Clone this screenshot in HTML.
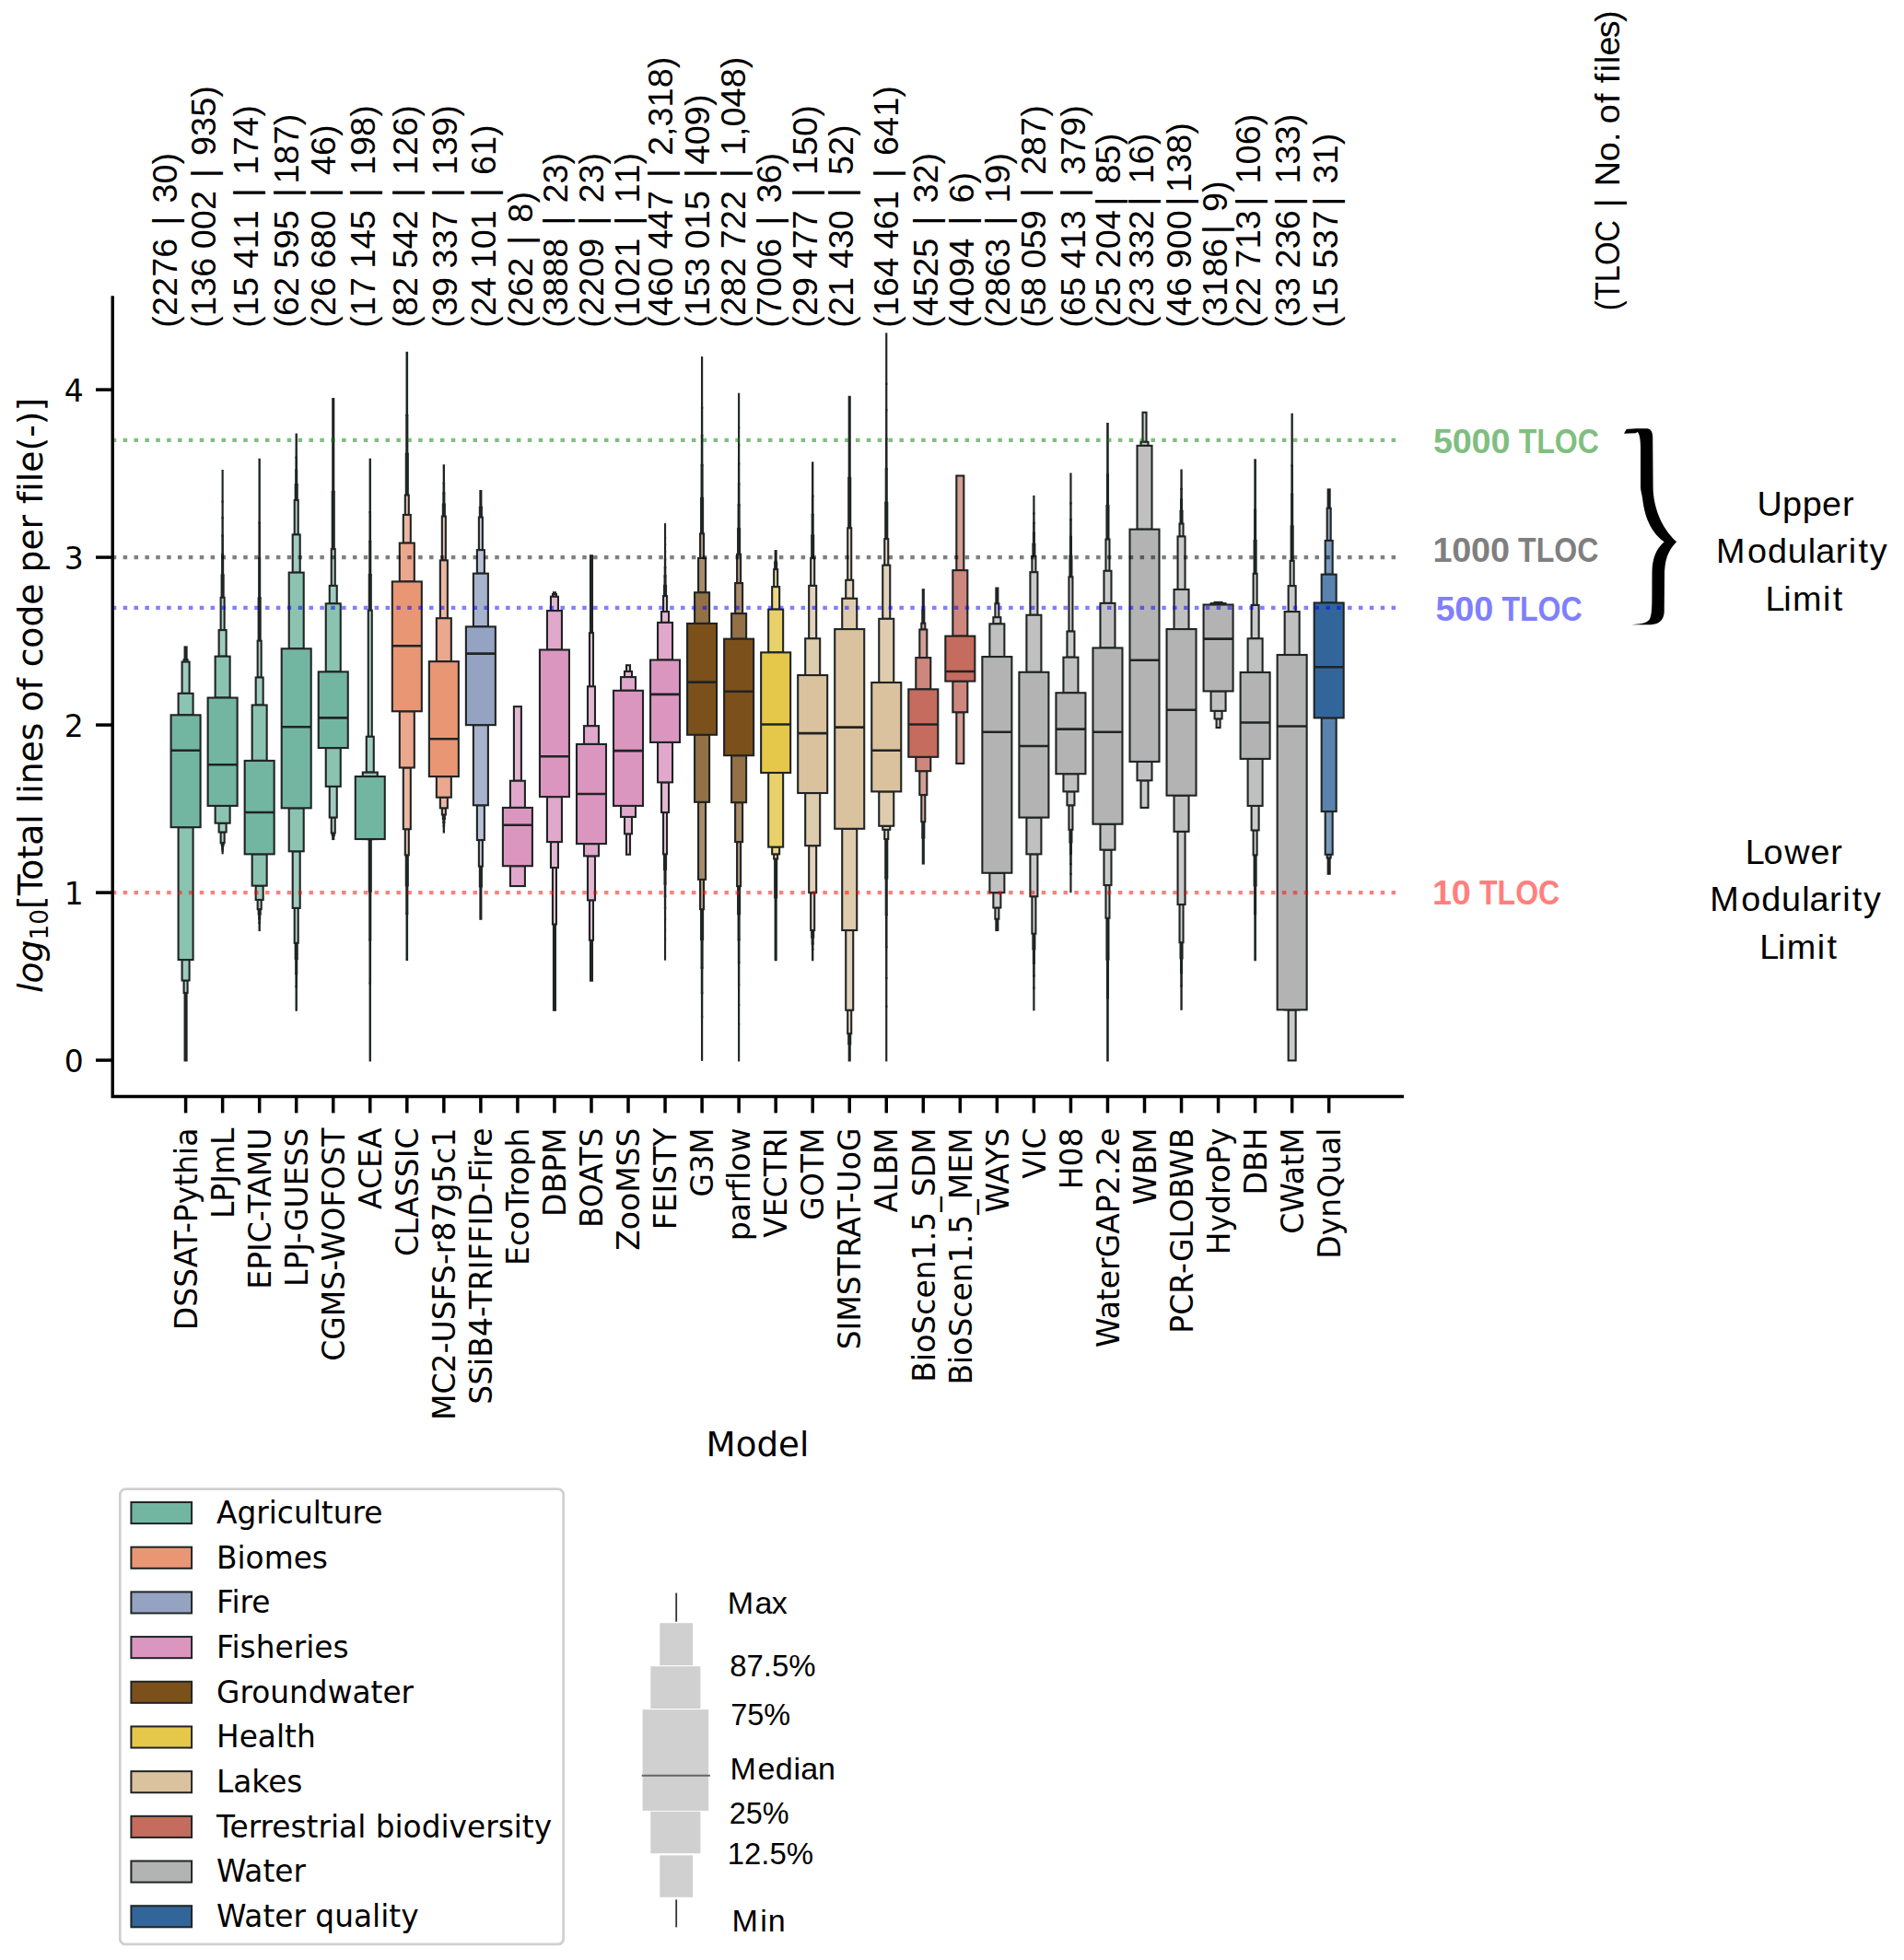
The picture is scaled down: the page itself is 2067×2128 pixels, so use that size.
<!DOCTYPE html><html lang="en"><head><meta charset="utf-8"><title>Total lines of code per file by model</title>
<style>html,body{margin:0;padding:0;background:#fff}svg{display:block}text{white-space:pre;font-variant-ligatures:none;font-feature-settings:"liga" 0,"clig" 0;font-kerning:normal}</style></head><body>
<svg width="2067" height="2128" viewBox="0 0 2067 2128">
<rect width="2067" height="2128" fill="#fff"/>
<g id="boxes" stroke-linejoin="miter">
<rect x="200.60" y="702.45" width="2.00" height="13.67" fill="#bcdad0" stroke="#202424" stroke-width="2.1"/>
<rect x="200.60" y="1077.96" width="2.00" height="73.47" fill="#bcdad0" stroke="#202424" stroke-width="2.1"/>
<rect x="199.60" y="716.12" width="4.00" height="2.45" fill="#afd4c8" stroke="#202424" stroke-width="2.1"/>
<rect x="199.60" y="1064.49" width="4.00" height="13.47" fill="#afd4c8" stroke="#202424" stroke-width="2.1"/>
<rect x="197.60" y="718.57" width="8.00" height="34.29" fill="#9fccbe" stroke="#202424" stroke-width="2.1"/>
<rect x="197.60" y="1042.04" width="8.00" height="22.45" fill="#9fccbe" stroke="#202424" stroke-width="2.1"/>
<rect x="193.60" y="752.86" width="16.00" height="23.47" fill="#8bc3b1" stroke="#202424" stroke-width="2.1"/>
<rect x="193.60" y="898.16" width="16.00" height="143.88" fill="#8bc3b1" stroke="#202424" stroke-width="2.1"/>
<rect x="185.60" y="776.33" width="32.00" height="121.84" fill="#72b6a1" stroke="#202424" stroke-width="2.1"/>
<line x1="185.60" x2="217.60" y1="814.69" y2="814.69" stroke="#202424" stroke-width="2.6"/>
<rect x="240.63" y="624.42" width="2.00" height="24.36" fill="#bcdad0" stroke="#202424" stroke-width="2.1"/>
<rect x="241.13" y="601.74" width="1.00" height="22.68" fill="#c6dfd7" stroke="#202424" stroke-width="2.1"/>
<rect x="241.38" y="581.58" width="0.50" height="20.16" fill="#cee3dc" stroke="#202424" stroke-width="2.1"/>
<rect x="241.51" y="562.26" width="0.25" height="19.32" fill="#d4e6e0" stroke="#202424" stroke-width="2.1"/>
<rect x="241.57" y="544.62" width="0.12" height="17.64" fill="#d9e9e3" stroke="#202424" stroke-width="2.1"/>
<rect x="241.60" y="511.02" width="0.06" height="33.60" fill="#ddeae6" stroke="#202424" stroke-width="2.1"/>
<rect x="240.63" y="915.10" width="2.00" height="1.98" fill="#bcdad0" stroke="#202424" stroke-width="2.1"/>
<rect x="241.13" y="917.09" width="1.00" height="1.85" fill="#c6dfd7" stroke="#202424" stroke-width="2.1"/>
<rect x="241.38" y="918.93" width="0.50" height="1.64" fill="#cee3dc" stroke="#202424" stroke-width="2.1"/>
<rect x="241.51" y="920.58" width="0.25" height="1.57" fill="#d4e6e0" stroke="#202424" stroke-width="2.1"/>
<rect x="241.57" y="922.15" width="0.12" height="1.44" fill="#d9e9e3" stroke="#202424" stroke-width="2.1"/>
<rect x="241.60" y="923.59" width="0.06" height="2.74" fill="#ddeae6" stroke="#202424" stroke-width="2.1"/>
<rect x="239.63" y="648.78" width="4.00" height="35.31" fill="#afd4c8" stroke="#202424" stroke-width="2.1"/>
<rect x="239.63" y="903.47" width="4.00" height="11.63" fill="#afd4c8" stroke="#202424" stroke-width="2.1"/>
<rect x="237.63" y="684.08" width="8.00" height="28.57" fill="#9fccbe" stroke="#202424" stroke-width="2.1"/>
<rect x="237.63" y="893.67" width="8.00" height="9.80" fill="#9fccbe" stroke="#202424" stroke-width="2.1"/>
<rect x="233.63" y="712.65" width="16.00" height="44.90" fill="#8bc3b1" stroke="#202424" stroke-width="2.1"/>
<rect x="233.63" y="874.90" width="16.00" height="18.78" fill="#8bc3b1" stroke="#202424" stroke-width="2.1"/>
<rect x="225.63" y="757.55" width="32.00" height="117.35" fill="#72b6a1" stroke="#202424" stroke-width="2.1"/>
<line x1="225.63" x2="257.63" y1="830.20" y2="830.20" stroke="#202424" stroke-width="2.6"/>
<rect x="280.67" y="649.28" width="2.00" height="46.43" fill="#bcdad0" stroke="#202424" stroke-width="2.1"/>
<rect x="281.17" y="606.05" width="1.00" height="43.23" fill="#c6dfd7" stroke="#202424" stroke-width="2.1"/>
<rect x="281.42" y="567.62" width="0.50" height="38.43" fill="#cee3dc" stroke="#202424" stroke-width="2.1"/>
<rect x="281.54" y="498.78" width="0.25" height="68.85" fill="#d4e6e0" stroke="#202424" stroke-width="2.1"/>
<rect x="280.67" y="987.14" width="2.00" height="5.39" fill="#bcdad0" stroke="#202424" stroke-width="2.1"/>
<rect x="281.17" y="992.53" width="1.00" height="5.02" fill="#c6dfd7" stroke="#202424" stroke-width="2.1"/>
<rect x="281.42" y="997.55" width="0.50" height="4.46" fill="#cee3dc" stroke="#202424" stroke-width="2.1"/>
<rect x="281.54" y="1002.01" width="0.25" height="7.99" fill="#d4e6e0" stroke="#202424" stroke-width="2.1"/>
<rect x="279.67" y="695.71" width="4.00" height="39.80" fill="#afd4c8" stroke="#202424" stroke-width="2.1"/>
<rect x="279.67" y="976.94" width="4.00" height="10.20" fill="#afd4c8" stroke="#202424" stroke-width="2.1"/>
<rect x="277.67" y="735.51" width="8.00" height="30.00" fill="#9fccbe" stroke="#202424" stroke-width="2.1"/>
<rect x="277.67" y="961.63" width="8.00" height="15.31" fill="#9fccbe" stroke="#202424" stroke-width="2.1"/>
<rect x="273.67" y="765.51" width="16.00" height="60.41" fill="#8bc3b1" stroke="#202424" stroke-width="2.1"/>
<rect x="273.67" y="927.35" width="16.00" height="34.29" fill="#8bc3b1" stroke="#202424" stroke-width="2.1"/>
<rect x="265.67" y="825.92" width="32.00" height="101.43" fill="#72b6a1" stroke="#202424" stroke-width="2.1"/>
<line x1="265.67" x2="297.67" y1="882.04" y2="882.04" stroke="#202424" stroke-width="2.6"/>
<rect x="320.70" y="526.22" width="2.00" height="16.84" fill="#bcdad0" stroke="#202424" stroke-width="2.1"/>
<rect x="321.20" y="510.54" width="1.00" height="15.68" fill="#c6dfd7" stroke="#202424" stroke-width="2.1"/>
<rect x="321.45" y="496.60" width="0.50" height="13.94" fill="#cee3dc" stroke="#202424" stroke-width="2.1"/>
<rect x="321.58" y="471.63" width="0.25" height="24.97" fill="#d4e6e0" stroke="#202424" stroke-width="2.1"/>
<rect x="320.70" y="1023.88" width="2.00" height="17.18" fill="#bcdad0" stroke="#202424" stroke-width="2.1"/>
<rect x="321.20" y="1041.06" width="1.00" height="15.99" fill="#c6dfd7" stroke="#202424" stroke-width="2.1"/>
<rect x="321.45" y="1057.05" width="0.50" height="14.22" fill="#cee3dc" stroke="#202424" stroke-width="2.1"/>
<rect x="321.58" y="1071.26" width="0.25" height="25.47" fill="#d4e6e0" stroke="#202424" stroke-width="2.1"/>
<rect x="319.70" y="543.06" width="4.00" height="37.35" fill="#afd4c8" stroke="#202424" stroke-width="2.1"/>
<rect x="319.70" y="985.92" width="4.00" height="37.96" fill="#afd4c8" stroke="#202424" stroke-width="2.1"/>
<rect x="317.70" y="580.41" width="8.00" height="41.22" fill="#9fccbe" stroke="#202424" stroke-width="2.1"/>
<rect x="317.70" y="924.29" width="8.00" height="61.63" fill="#9fccbe" stroke="#202424" stroke-width="2.1"/>
<rect x="313.70" y="621.63" width="16.00" height="82.65" fill="#8bc3b1" stroke="#202424" stroke-width="2.1"/>
<rect x="313.70" y="877.35" width="16.00" height="46.94" fill="#8bc3b1" stroke="#202424" stroke-width="2.1"/>
<rect x="305.70" y="704.29" width="32.00" height="173.06" fill="#72b6a1" stroke="#202424" stroke-width="2.1"/>
<line x1="305.70" x2="337.70" y1="789.18" y2="789.18" stroke="#202424" stroke-width="2.6"/>
<rect x="360.74" y="533.90" width="2.00" height="62.22" fill="#bcdad0" stroke="#202424" stroke-width="2.1"/>
<rect x="361.24" y="433.06" width="1.00" height="100.84" fill="#c6dfd7" stroke="#202424" stroke-width="2.1"/>
<rect x="360.74" y="904.49" width="2.00" height="2.49" fill="#bcdad0" stroke="#202424" stroke-width="2.1"/>
<rect x="361.24" y="906.98" width="1.00" height="4.04" fill="#c6dfd7" stroke="#202424" stroke-width="2.1"/>
<rect x="359.74" y="596.12" width="4.00" height="39.80" fill="#afd4c8" stroke="#202424" stroke-width="2.1"/>
<rect x="359.74" y="887.55" width="4.00" height="16.94" fill="#afd4c8" stroke="#202424" stroke-width="2.1"/>
<rect x="357.74" y="635.92" width="8.00" height="19.39" fill="#9fccbe" stroke="#202424" stroke-width="2.1"/>
<rect x="357.74" y="853.88" width="8.00" height="33.67" fill="#9fccbe" stroke="#202424" stroke-width="2.1"/>
<rect x="353.74" y="655.31" width="16.00" height="74.08" fill="#8bc3b1" stroke="#202424" stroke-width="2.1"/>
<rect x="353.74" y="812.04" width="16.00" height="41.84" fill="#8bc3b1" stroke="#202424" stroke-width="2.1"/>
<rect x="345.74" y="729.39" width="32.00" height="82.65" fill="#72b6a1" stroke="#202424" stroke-width="2.1"/>
<line x1="345.74" x2="377.74" y1="779.39" y2="779.39" stroke="#202424" stroke-width="2.6"/>
<rect x="400.77" y="624.02" width="2.00" height="38.64" fill="#bcdad0" stroke="#202424" stroke-width="2.1"/>
<rect x="401.27" y="588.04" width="1.00" height="35.97" fill="#c6dfd7" stroke="#202424" stroke-width="2.1"/>
<rect x="401.52" y="556.07" width="0.50" height="31.98" fill="#cee3dc" stroke="#202424" stroke-width="2.1"/>
<rect x="401.65" y="498.78" width="0.25" height="57.29" fill="#d4e6e0" stroke="#202424" stroke-width="2.1"/>
<rect x="400.77" y="911.02" width="2.00" height="56.68" fill="#bcdad0" stroke="#202424" stroke-width="2.1"/>
<rect x="401.27" y="967.70" width="1.00" height="52.77" fill="#c6dfd7" stroke="#202424" stroke-width="2.1"/>
<rect x="401.52" y="1020.47" width="0.50" height="46.91" fill="#cee3dc" stroke="#202424" stroke-width="2.1"/>
<rect x="401.65" y="1067.38" width="0.25" height="84.05" fill="#d4e6e0" stroke="#202424" stroke-width="2.1"/>
<rect x="399.77" y="662.65" width="4.00" height="137.14" fill="#afd4c8" stroke="#202424" stroke-width="2.1"/>
<rect x="399.77" y="911.02" width="4.00" height="0.01" fill="#afd4c8" stroke="#202424" stroke-width="2.1"/>
<rect x="397.77" y="799.80" width="8.00" height="38.78" fill="#9fccbe" stroke="#202424" stroke-width="2.1"/>
<rect x="397.77" y="911.02" width="8.00" height="0.01" fill="#9fccbe" stroke="#202424" stroke-width="2.1"/>
<rect x="393.77" y="838.57" width="16.00" height="4.49" fill="#8bc3b1" stroke="#202424" stroke-width="2.1"/>
<rect x="393.77" y="911.02" width="16.00" height="0.01" fill="#8bc3b1" stroke="#202424" stroke-width="2.1"/>
<rect x="385.77" y="843.06" width="32.00" height="67.96" fill="#72b6a1" stroke="#202424" stroke-width="2.1"/>
<rect x="440.81" y="492.69" width="2.00" height="44.86" fill="#eeccbf" stroke="#202424" stroke-width="2.1"/>
<rect x="441.31" y="450.92" width="1.00" height="41.77" fill="#efd4c9" stroke="#202424" stroke-width="2.1"/>
<rect x="441.56" y="382.86" width="0.50" height="68.07" fill="#f0d9d1" stroke="#202424" stroke-width="2.1"/>
<rect x="440.81" y="928.37" width="2.00" height="32.97" fill="#eeccbf" stroke="#202424" stroke-width="2.1"/>
<rect x="441.31" y="961.33" width="1.00" height="30.69" fill="#efd4c9" stroke="#202424" stroke-width="2.1"/>
<rect x="441.56" y="992.02" width="0.50" height="50.02" fill="#f0d9d1" stroke="#202424" stroke-width="2.1"/>
<rect x="439.81" y="537.55" width="4.00" height="21.43" fill="#edc3b2" stroke="#202424" stroke-width="2.1"/>
<rect x="439.81" y="900.20" width="4.00" height="28.16" fill="#edc3b2" stroke="#202424" stroke-width="2.1"/>
<rect x="437.81" y="558.98" width="8.00" height="30.61" fill="#ecb7a2" stroke="#202424" stroke-width="2.1"/>
<rect x="437.81" y="833.47" width="8.00" height="66.73" fill="#ecb7a2" stroke="#202424" stroke-width="2.1"/>
<rect x="433.81" y="589.59" width="16.00" height="41.84" fill="#eba88e" stroke="#202424" stroke-width="2.1"/>
<rect x="433.81" y="772.24" width="16.00" height="61.22" fill="#eba88e" stroke="#202424" stroke-width="2.1"/>
<rect x="425.81" y="631.43" width="32.00" height="140.82" fill="#e99675" stroke="#202424" stroke-width="2.1"/>
<line x1="425.81" x2="457.81" y1="701.22" y2="701.22" stroke="#202424" stroke-width="2.6"/>
<rect x="480.85" y="547.57" width="2.00" height="13.04" fill="#eeccbf" stroke="#202424" stroke-width="2.1"/>
<rect x="481.35" y="535.43" width="1.00" height="12.14" fill="#efd4c9" stroke="#202424" stroke-width="2.1"/>
<rect x="481.60" y="524.64" width="0.50" height="10.79" fill="#f0d9d1" stroke="#202424" stroke-width="2.1"/>
<rect x="481.72" y="505.31" width="0.25" height="19.33" fill="#f0ded8" stroke="#202424" stroke-width="2.1"/>
<rect x="480.85" y="884.49" width="2.00" height="4.47" fill="#eeccbf" stroke="#202424" stroke-width="2.1"/>
<rect x="481.35" y="888.96" width="1.00" height="4.17" fill="#efd4c9" stroke="#202424" stroke-width="2.1"/>
<rect x="481.60" y="893.13" width="0.50" height="3.70" fill="#f0d9d1" stroke="#202424" stroke-width="2.1"/>
<rect x="481.72" y="896.83" width="0.25" height="6.64" fill="#f0ded8" stroke="#202424" stroke-width="2.1"/>
<rect x="479.85" y="560.61" width="4.00" height="47.76" fill="#edc3b2" stroke="#202424" stroke-width="2.1"/>
<rect x="479.85" y="877.35" width="4.00" height="7.14" fill="#edc3b2" stroke="#202424" stroke-width="2.1"/>
<rect x="477.85" y="608.37" width="8.00" height="62.86" fill="#ecb7a2" stroke="#202424" stroke-width="2.1"/>
<rect x="477.85" y="865.71" width="8.00" height="11.63" fill="#ecb7a2" stroke="#202424" stroke-width="2.1"/>
<rect x="473.85" y="671.22" width="16.00" height="46.94" fill="#eba88e" stroke="#202424" stroke-width="2.1"/>
<rect x="473.85" y="843.06" width="16.00" height="22.65" fill="#eba88e" stroke="#202424" stroke-width="2.1"/>
<rect x="465.85" y="718.16" width="32.00" height="124.90" fill="#e99675" stroke="#202424" stroke-width="2.1"/>
<line x1="465.85" x2="497.85" y1="802.24" y2="802.24" stroke="#202424" stroke-width="2.6"/>
<rect x="520.88" y="550.73" width="2.00" height="10.90" fill="#ccd2df" stroke="#202424" stroke-width="2.1"/>
<rect x="521.38" y="533.06" width="1.00" height="17.67" fill="#d4d8e3" stroke="#202424" stroke-width="2.1"/>
<rect x="520.88" y="940.61" width="2.00" height="21.80" fill="#ccd2df" stroke="#202424" stroke-width="2.1"/>
<rect x="521.38" y="962.42" width="1.00" height="35.34" fill="#d4d8e3" stroke="#202424" stroke-width="2.1"/>
<rect x="519.88" y="561.63" width="4.00" height="35.51" fill="#c2cada" stroke="#202424" stroke-width="2.1"/>
<rect x="519.88" y="912.04" width="4.00" height="28.57" fill="#c2cada" stroke="#202424" stroke-width="2.1"/>
<rect x="517.88" y="597.14" width="8.00" height="25.51" fill="#b7c0d4" stroke="#202424" stroke-width="2.1"/>
<rect x="517.88" y="874.29" width="8.00" height="37.76" fill="#b7c0d4" stroke="#202424" stroke-width="2.1"/>
<rect x="513.88" y="622.65" width="16.00" height="57.76" fill="#a7b3cd" stroke="#202424" stroke-width="2.1"/>
<rect x="513.88" y="787.14" width="16.00" height="87.14" fill="#a7b3cd" stroke="#202424" stroke-width="2.1"/>
<rect x="505.88" y="680.41" width="32.00" height="106.73" fill="#95a3c3" stroke="#202424" stroke-width="2.1"/>
<line x1="505.88" x2="537.88" y1="709.59" y2="709.59" stroke="#202424" stroke-width="2.6"/>
<rect x="557.91" y="767.14" width="8.00" height="80.61" fill="#e4b7d2" stroke="#202424" stroke-width="2.1"/>
<rect x="553.91" y="847.76" width="16.00" height="29.18" fill="#e0a8ca" stroke="#202424" stroke-width="2.1"/>
<rect x="553.91" y="940.20" width="16.00" height="21.84" fill="#e0a8ca" stroke="#202424" stroke-width="2.1"/>
<rect x="545.91" y="876.94" width="32.00" height="63.27" fill="#db96c0" stroke="#202424" stroke-width="2.1"/>
<line x1="545.91" x2="577.91" y1="895.71" y2="895.71" stroke="#202424" stroke-width="2.6"/>
<rect x="600.95" y="643.27" width="2.00" height="1.84" fill="#e9ccde" stroke="#202424" stroke-width="2.1"/>
<rect x="600.95" y="1003.47" width="2.00" height="93.27" fill="#e9ccde" stroke="#202424" stroke-width="2.1"/>
<rect x="599.95" y="645.10" width="4.00" height="2.65" fill="#e7c3d9" stroke="#202424" stroke-width="2.1"/>
<rect x="599.95" y="942.04" width="4.00" height="61.43" fill="#e7c3d9" stroke="#202424" stroke-width="2.1"/>
<rect x="597.95" y="647.76" width="8.00" height="15.31" fill="#e4b7d2" stroke="#202424" stroke-width="2.1"/>
<rect x="597.95" y="914.08" width="8.00" height="27.96" fill="#e4b7d2" stroke="#202424" stroke-width="2.1"/>
<rect x="593.95" y="663.06" width="16.00" height="42.45" fill="#e0a8ca" stroke="#202424" stroke-width="2.1"/>
<rect x="593.95" y="865.10" width="16.00" height="48.98" fill="#e0a8ca" stroke="#202424" stroke-width="2.1"/>
<rect x="585.95" y="705.51" width="32.00" height="159.59" fill="#db96c0" stroke="#202424" stroke-width="2.1"/>
<line x1="585.95" x2="617.95" y1="821.22" y2="821.22" stroke="#202424" stroke-width="2.6"/>
<rect x="640.99" y="603.27" width="2.00" height="83.88" fill="#e9ccde" stroke="#202424" stroke-width="2.1"/>
<rect x="640.99" y="1020.82" width="2.00" height="43.88" fill="#e9ccde" stroke="#202424" stroke-width="2.1"/>
<rect x="639.99" y="687.14" width="4.00" height="58.16" fill="#e7c3d9" stroke="#202424" stroke-width="2.1"/>
<rect x="639.99" y="977.35" width="4.00" height="43.47" fill="#e7c3d9" stroke="#202424" stroke-width="2.1"/>
<rect x="637.99" y="745.31" width="8.00" height="42.86" fill="#e4b7d2" stroke="#202424" stroke-width="2.1"/>
<rect x="637.99" y="929.39" width="8.00" height="47.96" fill="#e4b7d2" stroke="#202424" stroke-width="2.1"/>
<rect x="633.99" y="788.16" width="16.00" height="19.80" fill="#e0a8ca" stroke="#202424" stroke-width="2.1"/>
<rect x="633.99" y="916.12" width="16.00" height="13.27" fill="#e0a8ca" stroke="#202424" stroke-width="2.1"/>
<rect x="625.99" y="807.96" width="32.00" height="108.16" fill="#db96c0" stroke="#202424" stroke-width="2.1"/>
<line x1="625.99" x2="657.99" y1="862.04" y2="862.04" stroke="#202424" stroke-width="2.6"/>
<rect x="680.02" y="722.24" width="4.00" height="6.73" fill="#e7c3d9" stroke="#202424" stroke-width="2.1"/>
<rect x="680.02" y="905.31" width="4.00" height="22.45" fill="#e7c3d9" stroke="#202424" stroke-width="2.1"/>
<rect x="678.02" y="728.98" width="8.00" height="6.12" fill="#e4b7d2" stroke="#202424" stroke-width="2.1"/>
<rect x="678.02" y="886.94" width="8.00" height="18.37" fill="#e4b7d2" stroke="#202424" stroke-width="2.1"/>
<rect x="674.02" y="735.10" width="16.00" height="14.69" fill="#e0a8ca" stroke="#202424" stroke-width="2.1"/>
<rect x="674.02" y="874.90" width="16.00" height="12.04" fill="#e0a8ca" stroke="#202424" stroke-width="2.1"/>
<rect x="666.02" y="749.80" width="32.00" height="125.10" fill="#db96c0" stroke="#202424" stroke-width="2.1"/>
<line x1="666.02" x2="698.02" y1="815.10" y2="815.10" stroke="#202424" stroke-width="2.6"/>
<rect x="721.05" y="635.84" width="2.00" height="11.30" fill="#e9ccde" stroke="#202424" stroke-width="2.1"/>
<rect x="721.55" y="625.31" width="1.00" height="10.52" fill="#ebd4e2" stroke="#202424" stroke-width="2.1"/>
<rect x="721.80" y="615.96" width="0.50" height="9.36" fill="#ecd9e5" stroke="#202424" stroke-width="2.1"/>
<rect x="721.93" y="606.99" width="0.25" height="8.97" fill="#eddee8" stroke="#202424" stroke-width="2.1"/>
<rect x="721.99" y="598.81" width="0.12" height="8.19" fill="#eee2e9" stroke="#202424" stroke-width="2.1"/>
<rect x="722.02" y="591.01" width="0.06" height="7.80" fill="#efe5eb" stroke="#202424" stroke-width="2.1"/>
<rect x="722.04" y="584.00" width="0.03" height="7.02" fill="#efe5eb" stroke="#202424" stroke-width="2.1"/>
<rect x="722.05" y="569.18" width="0.02" height="14.81" fill="#efe5eb" stroke="#202424" stroke-width="2.1"/>
<rect x="721.05" y="927.35" width="2.00" height="16.57" fill="#e9ccde" stroke="#202424" stroke-width="2.1"/>
<rect x="721.55" y="943.92" width="1.00" height="15.43" fill="#ebd4e2" stroke="#202424" stroke-width="2.1"/>
<rect x="721.80" y="959.35" width="0.50" height="13.71" fill="#ecd9e5" stroke="#202424" stroke-width="2.1"/>
<rect x="721.93" y="973.06" width="0.25" height="13.14" fill="#eddee8" stroke="#202424" stroke-width="2.1"/>
<rect x="721.99" y="986.20" width="0.12" height="12.00" fill="#eee2e9" stroke="#202424" stroke-width="2.1"/>
<rect x="722.02" y="998.20" width="0.06" height="11.43" fill="#efe5eb" stroke="#202424" stroke-width="2.1"/>
<rect x="722.04" y="1009.63" width="0.03" height="10.29" fill="#efe5eb" stroke="#202424" stroke-width="2.1"/>
<rect x="722.05" y="1019.92" width="0.02" height="21.71" fill="#efe5eb" stroke="#202424" stroke-width="2.1"/>
<rect x="720.05" y="647.14" width="4.00" height="16.94" fill="#e7c3d9" stroke="#202424" stroke-width="2.1"/>
<rect x="720.05" y="882.04" width="4.00" height="45.31" fill="#e7c3d9" stroke="#202424" stroke-width="2.1"/>
<rect x="718.05" y="664.08" width="8.00" height="11.84" fill="#e4b7d2" stroke="#202424" stroke-width="2.1"/>
<rect x="718.05" y="849.39" width="8.00" height="32.65" fill="#e4b7d2" stroke="#202424" stroke-width="2.1"/>
<rect x="714.05" y="675.92" width="16.00" height="40.61" fill="#e0a8ca" stroke="#202424" stroke-width="2.1"/>
<rect x="714.05" y="805.92" width="16.00" height="43.47" fill="#e0a8ca" stroke="#202424" stroke-width="2.1"/>
<rect x="706.05" y="716.53" width="32.00" height="89.39" fill="#db96c0" stroke="#202424" stroke-width="2.1"/>
<line x1="706.05" x2="738.05" y1="753.88" y2="753.88" stroke="#202424" stroke-width="2.6"/>
<rect x="761.09" y="540.88" width="2.00" height="38.51" fill="#c4b19b" stroke="#202424" stroke-width="2.1"/>
<rect x="761.59" y="505.02" width="1.00" height="35.85" fill="#cdbeac" stroke="#202424" stroke-width="2.1"/>
<rect x="761.84" y="473.15" width="0.50" height="31.87" fill="#d5c8b9" stroke="#202424" stroke-width="2.1"/>
<rect x="761.97" y="442.61" width="0.25" height="30.54" fill="#dbd1c5" stroke="#202424" stroke-width="2.1"/>
<rect x="762.03" y="388.16" width="0.12" height="54.45" fill="#e0d7cd" stroke="#202424" stroke-width="2.1"/>
<rect x="761.09" y="987.14" width="2.00" height="32.96" fill="#c4b19b" stroke="#202424" stroke-width="2.1"/>
<rect x="761.59" y="1020.10" width="1.00" height="30.69" fill="#cdbeac" stroke="#202424" stroke-width="2.1"/>
<rect x="761.84" y="1050.79" width="0.50" height="27.28" fill="#d5c8b9" stroke="#202424" stroke-width="2.1"/>
<rect x="761.97" y="1078.07" width="0.25" height="26.14" fill="#dbd1c5" stroke="#202424" stroke-width="2.1"/>
<rect x="762.03" y="1104.21" width="0.12" height="46.60" fill="#e0d7cd" stroke="#202424" stroke-width="2.1"/>
<rect x="760.09" y="579.39" width="4.00" height="26.53" fill="#b7a084" stroke="#202424" stroke-width="2.1"/>
<rect x="760.09" y="954.90" width="4.00" height="32.24" fill="#b7a084" stroke="#202424" stroke-width="2.1"/>
<rect x="758.09" y="605.92" width="8.00" height="37.35" fill="#a88b69" stroke="#202424" stroke-width="2.1"/>
<rect x="758.09" y="870.82" width="8.00" height="84.08" fill="#a88b69" stroke="#202424" stroke-width="2.1"/>
<rect x="754.09" y="643.27" width="16.00" height="33.67" fill="#947046" stroke="#202424" stroke-width="2.1"/>
<rect x="754.09" y="797.76" width="16.00" height="73.06" fill="#947046" stroke="#202424" stroke-width="2.1"/>
<rect x="746.09" y="676.94" width="32.00" height="120.82" fill="#7c501a" stroke="#202424" stroke-width="2.1"/>
<line x1="746.09" x2="778.09" y1="740.61" y2="740.61" stroke="#202424" stroke-width="2.6"/>
<rect x="801.12" y="574.10" width="2.00" height="27.74" fill="#c4b19b" stroke="#202424" stroke-width="2.1"/>
<rect x="801.62" y="548.27" width="1.00" height="25.83" fill="#cdbeac" stroke="#202424" stroke-width="2.1"/>
<rect x="801.88" y="525.32" width="0.50" height="22.96" fill="#d5c8b9" stroke="#202424" stroke-width="2.1"/>
<rect x="802.00" y="503.32" width="0.25" height="22.00" fill="#dbd1c5" stroke="#202424" stroke-width="2.1"/>
<rect x="802.06" y="483.23" width="0.12" height="20.09" fill="#e0d7cd" stroke="#202424" stroke-width="2.1"/>
<rect x="802.09" y="464.10" width="0.06" height="19.13" fill="#e4dcd4" stroke="#202424" stroke-width="2.1"/>
<rect x="802.11" y="427.76" width="0.03" height="36.35" fill="#e4dcd4" stroke="#202424" stroke-width="2.1"/>
<rect x="801.12" y="962.04" width="2.00" height="30.18" fill="#c4b19b" stroke="#202424" stroke-width="2.1"/>
<rect x="801.62" y="992.22" width="1.00" height="28.10" fill="#cdbeac" stroke="#202424" stroke-width="2.1"/>
<rect x="801.88" y="1020.31" width="0.50" height="24.97" fill="#d5c8b9" stroke="#202424" stroke-width="2.1"/>
<rect x="802.00" y="1045.29" width="0.25" height="23.93" fill="#dbd1c5" stroke="#202424" stroke-width="2.1"/>
<rect x="802.06" y="1069.22" width="0.12" height="21.85" fill="#e0d7cd" stroke="#202424" stroke-width="2.1"/>
<rect x="802.09" y="1091.07" width="0.06" height="20.81" fill="#e4dcd4" stroke="#202424" stroke-width="2.1"/>
<rect x="802.11" y="1111.89" width="0.03" height="39.54" fill="#e4dcd4" stroke="#202424" stroke-width="2.1"/>
<rect x="800.12" y="601.84" width="4.00" height="31.22" fill="#b7a084" stroke="#202424" stroke-width="2.1"/>
<rect x="800.12" y="914.08" width="4.00" height="47.96" fill="#b7a084" stroke="#202424" stroke-width="2.1"/>
<rect x="798.12" y="633.06" width="8.00" height="33.06" fill="#a88b69" stroke="#202424" stroke-width="2.1"/>
<rect x="798.12" y="871.22" width="8.00" height="42.86" fill="#a88b69" stroke="#202424" stroke-width="2.1"/>
<rect x="794.12" y="666.12" width="16.00" height="27.55" fill="#947046" stroke="#202424" stroke-width="2.1"/>
<rect x="794.12" y="820.20" width="16.00" height="51.02" fill="#947046" stroke="#202424" stroke-width="2.1"/>
<rect x="786.12" y="693.67" width="32.00" height="126.53" fill="#7c501a" stroke="#202424" stroke-width="2.1"/>
<line x1="786.12" x2="818.12" y1="750.82" y2="750.82" stroke="#202424" stroke-width="2.6"/>
<rect x="841.16" y="610.53" width="2.00" height="7.63" fill="#ede1ab" stroke="#202424" stroke-width="2.1"/>
<rect x="841.66" y="598.16" width="1.00" height="12.37" fill="#eee4b8" stroke="#202424" stroke-width="2.1"/>
<rect x="841.16" y="932.45" width="2.00" height="41.90" fill="#ede1ab" stroke="#202424" stroke-width="2.1"/>
<rect x="841.66" y="974.34" width="1.00" height="67.90" fill="#eee4b8" stroke="#202424" stroke-width="2.1"/>
<rect x="840.16" y="618.16" width="4.00" height="18.98" fill="#ecdc9a" stroke="#202424" stroke-width="2.1"/>
<rect x="840.16" y="927.35" width="4.00" height="5.10" fill="#ecdc9a" stroke="#202424" stroke-width="2.1"/>
<rect x="838.16" y="637.14" width="8.00" height="24.49" fill="#ead785" stroke="#202424" stroke-width="2.1"/>
<rect x="838.16" y="919.59" width="8.00" height="7.76" fill="#ead785" stroke="#202424" stroke-width="2.1"/>
<rect x="834.16" y="661.63" width="16.00" height="46.73" fill="#e8d16a" stroke="#202424" stroke-width="2.1"/>
<rect x="834.16" y="838.98" width="16.00" height="80.61" fill="#e8d16a" stroke="#202424" stroke-width="2.1"/>
<rect x="826.16" y="708.37" width="32.00" height="130.61" fill="#e5c849" stroke="#202424" stroke-width="2.1"/>
<line x1="826.16" x2="858.16" y1="786.53" y2="786.53" stroke="#202424" stroke-width="2.6"/>
<rect x="881.19" y="581.52" width="2.00" height="24.40" fill="#e8decf" stroke="#202424" stroke-width="2.1"/>
<rect x="881.69" y="558.81" width="1.00" height="22.71" fill="#eae2d6" stroke="#202424" stroke-width="2.1"/>
<rect x="881.94" y="538.62" width="0.50" height="20.19" fill="#ece5db" stroke="#202424" stroke-width="2.1"/>
<rect x="882.07" y="502.45" width="0.25" height="36.17" fill="#ede7df" stroke="#202424" stroke-width="2.1"/>
<rect x="881.19" y="1010.00" width="2.00" height="7.60" fill="#e8decf" stroke="#202424" stroke-width="2.1"/>
<rect x="881.69" y="1017.60" width="1.00" height="7.08" fill="#eae2d6" stroke="#202424" stroke-width="2.1"/>
<rect x="881.94" y="1024.68" width="0.50" height="6.29" fill="#ece5db" stroke="#202424" stroke-width="2.1"/>
<rect x="882.07" y="1030.97" width="0.25" height="11.27" fill="#ede7df" stroke="#202424" stroke-width="2.1"/>
<rect x="880.19" y="605.92" width="4.00" height="30.00" fill="#e6d9c7" stroke="#202424" stroke-width="2.1"/>
<rect x="880.19" y="969.18" width="4.00" height="40.82" fill="#e6d9c7" stroke="#202424" stroke-width="2.1"/>
<rect x="878.19" y="635.92" width="8.00" height="57.35" fill="#e3d3bc" stroke="#202424" stroke-width="2.1"/>
<rect x="878.19" y="918.16" width="8.00" height="51.02" fill="#e3d3bc" stroke="#202424" stroke-width="2.1"/>
<rect x="874.19" y="693.27" width="16.00" height="39.80" fill="#dfccaf" stroke="#202424" stroke-width="2.1"/>
<rect x="874.19" y="861.02" width="16.00" height="57.14" fill="#dfccaf" stroke="#202424" stroke-width="2.1"/>
<rect x="866.19" y="733.06" width="32.00" height="127.96" fill="#dbc29e" stroke="#202424" stroke-width="2.1"/>
<line x1="866.19" x2="898.19" y1="796.12" y2="796.12" stroke="#202424" stroke-width="2.6"/>
<rect x="921.23" y="518.91" width="2.00" height="54.36" fill="#e8decf" stroke="#202424" stroke-width="2.1"/>
<rect x="921.73" y="430.82" width="1.00" height="88.09" fill="#eae2d6" stroke="#202424" stroke-width="2.1"/>
<rect x="921.23" y="1122.24" width="2.00" height="11.14" fill="#e8decf" stroke="#202424" stroke-width="2.1"/>
<rect x="921.73" y="1133.38" width="1.00" height="18.05" fill="#eae2d6" stroke="#202424" stroke-width="2.1"/>
<rect x="920.23" y="573.27" width="4.00" height="56.53" fill="#e6d9c7" stroke="#202424" stroke-width="2.1"/>
<rect x="920.23" y="1096.73" width="4.00" height="25.51" fill="#e6d9c7" stroke="#202424" stroke-width="2.1"/>
<rect x="918.23" y="629.80" width="8.00" height="20.00" fill="#e3d3bc" stroke="#202424" stroke-width="2.1"/>
<rect x="918.23" y="1010.00" width="8.00" height="86.73" fill="#e3d3bc" stroke="#202424" stroke-width="2.1"/>
<rect x="914.23" y="649.80" width="16.00" height="33.27" fill="#dfccaf" stroke="#202424" stroke-width="2.1"/>
<rect x="914.23" y="899.80" width="16.00" height="110.20" fill="#dfccaf" stroke="#202424" stroke-width="2.1"/>
<rect x="906.23" y="683.06" width="32.00" height="216.73" fill="#dbc29e" stroke="#202424" stroke-width="2.1"/>
<line x1="906.23" x2="938.23" y1="789.59" y2="789.59" stroke="#202424" stroke-width="2.6"/>
<rect x="961.26" y="545.73" width="2.00" height="39.37" fill="#e8decf" stroke="#202424" stroke-width="2.1"/>
<rect x="961.76" y="509.07" width="1.00" height="36.66" fill="#eae2d6" stroke="#202424" stroke-width="2.1"/>
<rect x="962.01" y="476.49" width="0.50" height="32.58" fill="#ece5db" stroke="#202424" stroke-width="2.1"/>
<rect x="962.14" y="445.27" width="0.25" height="31.23" fill="#ede7df" stroke="#202424" stroke-width="2.1"/>
<rect x="962.20" y="416.75" width="0.12" height="28.51" fill="#eee9e3" stroke="#202424" stroke-width="2.1"/>
<rect x="962.23" y="362.45" width="0.06" height="54.31" fill="#efebe5" stroke="#202424" stroke-width="2.1"/>
<rect x="961.26" y="911.02" width="2.00" height="42.51" fill="#e8decf" stroke="#202424" stroke-width="2.1"/>
<rect x="961.76" y="953.53" width="1.00" height="39.58" fill="#eae2d6" stroke="#202424" stroke-width="2.1"/>
<rect x="962.01" y="993.11" width="0.50" height="35.18" fill="#ece5db" stroke="#202424" stroke-width="2.1"/>
<rect x="962.14" y="1028.29" width="0.25" height="33.72" fill="#ede7df" stroke="#202424" stroke-width="2.1"/>
<rect x="962.20" y="1062.01" width="0.12" height="30.78" fill="#eee9e3" stroke="#202424" stroke-width="2.1"/>
<rect x="962.23" y="1092.79" width="0.06" height="58.64" fill="#efebe5" stroke="#202424" stroke-width="2.1"/>
<rect x="960.26" y="585.10" width="4.00" height="28.57" fill="#e6d9c7" stroke="#202424" stroke-width="2.1"/>
<rect x="960.26" y="900.82" width="4.00" height="10.20" fill="#e6d9c7" stroke="#202424" stroke-width="2.1"/>
<rect x="958.26" y="613.67" width="8.00" height="58.16" fill="#e3d3bc" stroke="#202424" stroke-width="2.1"/>
<rect x="958.26" y="896.73" width="8.00" height="4.08" fill="#e3d3bc" stroke="#202424" stroke-width="2.1"/>
<rect x="954.26" y="671.84" width="16.00" height="69.18" fill="#dfccaf" stroke="#202424" stroke-width="2.1"/>
<rect x="954.26" y="859.39" width="16.00" height="37.35" fill="#dfccaf" stroke="#202424" stroke-width="2.1"/>
<rect x="946.26" y="741.02" width="32.00" height="118.37" fill="#dbc29e" stroke="#202424" stroke-width="2.1"/>
<line x1="946.26" x2="978.26" y1="814.69" y2="814.69" stroke="#202424" stroke-width="2.6"/>
<rect x="1001.30" y="662.80" width="2.00" height="13.94" fill="#e0bcb6" stroke="#202424" stroke-width="2.1"/>
<rect x="1001.80" y="640.20" width="1.00" height="22.59" fill="#e4c7c2" stroke="#202424" stroke-width="2.1"/>
<rect x="1001.30" y="892.24" width="2.00" height="17.29" fill="#e0bcb6" stroke="#202424" stroke-width="2.1"/>
<rect x="1001.80" y="909.53" width="1.00" height="28.02" fill="#e4c7c2" stroke="#202424" stroke-width="2.1"/>
<rect x="1000.30" y="676.73" width="4.00" height="6.73" fill="#dbaea7" stroke="#202424" stroke-width="2.1"/>
<rect x="1000.30" y="863.06" width="4.00" height="29.18" fill="#dbaea7" stroke="#202424" stroke-width="2.1"/>
<rect x="998.30" y="683.47" width="8.00" height="30.61" fill="#d59d94" stroke="#202424" stroke-width="2.1"/>
<rect x="998.30" y="837.14" width="8.00" height="25.92" fill="#d59d94" stroke="#202424" stroke-width="2.1"/>
<rect x="994.30" y="714.08" width="16.00" height="34.29" fill="#ce877c" stroke="#202424" stroke-width="2.1"/>
<rect x="994.30" y="821.84" width="16.00" height="15.31" fill="#ce877c" stroke="#202424" stroke-width="2.1"/>
<rect x="986.30" y="748.37" width="32.00" height="73.47" fill="#c56c5e" stroke="#202424" stroke-width="2.1"/>
<line x1="986.30" x2="1018.30" y1="786.53" y2="786.53" stroke="#202424" stroke-width="2.6"/>
<rect x="1038.33" y="516.53" width="8.00" height="102.65" fill="#d59d94" stroke="#202424" stroke-width="2.1"/>
<rect x="1038.33" y="773.27" width="8.00" height="55.71" fill="#d59d94" stroke="#202424" stroke-width="2.1"/>
<rect x="1034.33" y="619.18" width="16.00" height="71.43" fill="#ce877c" stroke="#202424" stroke-width="2.1"/>
<rect x="1034.33" y="739.59" width="16.00" height="33.67" fill="#ce877c" stroke="#202424" stroke-width="2.1"/>
<rect x="1026.33" y="690.61" width="32.00" height="48.98" fill="#c56c5e" stroke="#202424" stroke-width="2.1"/>
<line x1="1026.33" x2="1058.33" y1="728.98" y2="728.98" stroke="#202424" stroke-width="2.6"/>
<rect x="1081.37" y="638.57" width="2.00" height="16.73" fill="#d8d8d8" stroke="#202424" stroke-width="2.1"/>
<rect x="1081.37" y="997.76" width="2.00" height="12.24" fill="#d8d8d8" stroke="#202424" stroke-width="2.1"/>
<rect x="1080.37" y="655.31" width="4.00" height="14.90" fill="#d2d2d2" stroke="#202424" stroke-width="2.1"/>
<rect x="1080.37" y="985.51" width="4.00" height="12.24" fill="#d2d2d2" stroke="#202424" stroke-width="2.1"/>
<rect x="1078.37" y="670.20" width="8.00" height="7.14" fill="#cacaca" stroke="#202424" stroke-width="2.1"/>
<rect x="1078.37" y="969.18" width="8.00" height="16.33" fill="#cacaca" stroke="#202424" stroke-width="2.1"/>
<rect x="1074.37" y="677.35" width="16.00" height="35.71" fill="#c0c0c0" stroke="#202424" stroke-width="2.1"/>
<rect x="1074.37" y="947.76" width="16.00" height="21.43" fill="#c0c0c0" stroke="#202424" stroke-width="2.1"/>
<rect x="1066.37" y="713.06" width="32.00" height="234.69" fill="#b3b3b3" stroke="#202424" stroke-width="2.1"/>
<line x1="1066.37" x2="1098.37" y1="794.69" y2="794.69" stroke="#202424" stroke-width="2.6"/>
<rect x="1121.40" y="590.81" width="2.00" height="13.07" fill="#d8d8d8" stroke="#202424" stroke-width="2.1"/>
<rect x="1121.90" y="578.64" width="1.00" height="12.17" fill="#dddddd" stroke="#202424" stroke-width="2.1"/>
<rect x="1122.15" y="567.82" width="0.50" height="10.82" fill="#e1e1e1" stroke="#202424" stroke-width="2.1"/>
<rect x="1122.28" y="557.46" width="0.25" height="10.37" fill="#e5e5e4" stroke="#202424" stroke-width="2.1"/>
<rect x="1122.34" y="538.98" width="0.12" height="18.48" fill="#e7e7e7" stroke="#202424" stroke-width="2.1"/>
<rect x="1121.40" y="1013.67" width="2.00" height="16.65" fill="#d8d8d8" stroke="#202424" stroke-width="2.1"/>
<rect x="1121.90" y="1030.32" width="1.00" height="15.50" fill="#dddddd" stroke="#202424" stroke-width="2.1"/>
<rect x="1122.15" y="1045.82" width="0.50" height="13.78" fill="#e1e1e1" stroke="#202424" stroke-width="2.1"/>
<rect x="1122.28" y="1059.59" width="0.25" height="13.20" fill="#e5e5e4" stroke="#202424" stroke-width="2.1"/>
<rect x="1122.34" y="1072.79" width="0.12" height="23.53" fill="#e7e7e7" stroke="#202424" stroke-width="2.1"/>
<rect x="1120.40" y="603.88" width="4.00" height="17.35" fill="#d2d2d2" stroke="#202424" stroke-width="2.1"/>
<rect x="1120.40" y="973.27" width="4.00" height="40.41" fill="#d2d2d2" stroke="#202424" stroke-width="2.1"/>
<rect x="1118.40" y="621.22" width="8.00" height="46.53" fill="#cacaca" stroke="#202424" stroke-width="2.1"/>
<rect x="1118.40" y="927.35" width="8.00" height="45.92" fill="#cacaca" stroke="#202424" stroke-width="2.1"/>
<rect x="1114.40" y="667.76" width="16.00" height="62.04" fill="#c0c0c0" stroke="#202424" stroke-width="2.1"/>
<rect x="1114.40" y="887.55" width="16.00" height="39.80" fill="#c0c0c0" stroke="#202424" stroke-width="2.1"/>
<rect x="1106.40" y="729.80" width="32.00" height="157.76" fill="#b3b3b3" stroke="#202424" stroke-width="2.1"/>
<line x1="1106.40" x2="1138.40" y1="810.00" y2="810.00" stroke="#202424" stroke-width="2.6"/>
<rect x="1161.44" y="603.80" width="2.00" height="22.52" fill="#d8d8d8" stroke="#202424" stroke-width="2.1"/>
<rect x="1161.94" y="582.83" width="1.00" height="20.97" fill="#dddddd" stroke="#202424" stroke-width="2.1"/>
<rect x="1162.19" y="564.20" width="0.50" height="18.64" fill="#e1e1e1" stroke="#202424" stroke-width="2.1"/>
<rect x="1162.31" y="546.33" width="0.25" height="17.86" fill="#e5e5e4" stroke="#202424" stroke-width="2.1"/>
<rect x="1162.38" y="514.49" width="0.12" height="31.84" fill="#e7e7e7" stroke="#202424" stroke-width="2.1"/>
<rect x="1161.44" y="900.82" width="2.00" height="13.56" fill="#d8d8d8" stroke="#202424" stroke-width="2.1"/>
<rect x="1161.94" y="914.38" width="1.00" height="12.63" fill="#dddddd" stroke="#202424" stroke-width="2.1"/>
<rect x="1162.19" y="927.01" width="0.50" height="11.22" fill="#e1e1e1" stroke="#202424" stroke-width="2.1"/>
<rect x="1162.31" y="938.23" width="0.25" height="10.76" fill="#e5e5e4" stroke="#202424" stroke-width="2.1"/>
<rect x="1162.38" y="948.99" width="0.12" height="19.18" fill="#e7e7e7" stroke="#202424" stroke-width="2.1"/>
<rect x="1160.44" y="626.33" width="4.00" height="59.18" fill="#d2d2d2" stroke="#202424" stroke-width="2.1"/>
<rect x="1160.44" y="874.29" width="4.00" height="26.53" fill="#d2d2d2" stroke="#202424" stroke-width="2.1"/>
<rect x="1158.44" y="685.51" width="8.00" height="28.16" fill="#cacaca" stroke="#202424" stroke-width="2.1"/>
<rect x="1158.44" y="859.39" width="8.00" height="14.90" fill="#cacaca" stroke="#202424" stroke-width="2.1"/>
<rect x="1154.44" y="713.67" width="16.00" height="38.57" fill="#c0c0c0" stroke="#202424" stroke-width="2.1"/>
<rect x="1154.44" y="840.20" width="16.00" height="19.18" fill="#c0c0c0" stroke="#202424" stroke-width="2.1"/>
<rect x="1146.44" y="752.24" width="32.00" height="87.96" fill="#b3b3b3" stroke="#202424" stroke-width="2.1"/>
<line x1="1146.44" x2="1178.44" y1="791.63" y2="791.63" stroke="#202424" stroke-width="2.6"/>
<rect x="1201.47" y="549.11" width="2.00" height="36.40" fill="#d8d8d8" stroke="#202424" stroke-width="2.1"/>
<rect x="1201.97" y="515.22" width="1.00" height="33.89" fill="#dddddd" stroke="#202424" stroke-width="2.1"/>
<rect x="1202.22" y="460.00" width="0.50" height="55.22" fill="#e1e1e1" stroke="#202424" stroke-width="2.1"/>
<rect x="1201.47" y="996.73" width="2.00" height="44.86" fill="#d8d8d8" stroke="#202424" stroke-width="2.1"/>
<rect x="1201.97" y="1041.60" width="1.00" height="41.77" fill="#dddddd" stroke="#202424" stroke-width="2.1"/>
<rect x="1202.22" y="1083.36" width="0.50" height="68.07" fill="#e1e1e1" stroke="#202424" stroke-width="2.1"/>
<rect x="1200.47" y="585.51" width="4.00" height="34.29" fill="#d2d2d2" stroke="#202424" stroke-width="2.1"/>
<rect x="1200.47" y="961.02" width="4.00" height="35.71" fill="#d2d2d2" stroke="#202424" stroke-width="2.1"/>
<rect x="1198.47" y="619.80" width="8.00" height="35.10" fill="#cacaca" stroke="#202424" stroke-width="2.1"/>
<rect x="1198.47" y="922.65" width="8.00" height="38.37" fill="#cacaca" stroke="#202424" stroke-width="2.1"/>
<rect x="1194.47" y="654.90" width="16.00" height="48.57" fill="#c0c0c0" stroke="#202424" stroke-width="2.1"/>
<rect x="1194.47" y="894.69" width="16.00" height="27.96" fill="#c0c0c0" stroke="#202424" stroke-width="2.1"/>
<rect x="1186.47" y="703.47" width="32.00" height="191.22" fill="#b3b3b3" stroke="#202424" stroke-width="2.1"/>
<line x1="1186.47" x2="1218.47" y1="794.69" y2="794.69" stroke="#202424" stroke-width="2.6"/>
<rect x="1240.51" y="447.76" width="4.00" height="32.04" fill="#d2d2d2" stroke="#202424" stroke-width="2.1"/>
<rect x="1238.51" y="479.80" width="8.00" height="4.08" fill="#cacaca" stroke="#202424" stroke-width="2.1"/>
<rect x="1238.51" y="847.35" width="8.00" height="29.59" fill="#cacaca" stroke="#202424" stroke-width="2.1"/>
<rect x="1234.51" y="483.88" width="16.00" height="90.82" fill="#c0c0c0" stroke="#202424" stroke-width="2.1"/>
<rect x="1234.51" y="826.94" width="16.00" height="20.41" fill="#c0c0c0" stroke="#202424" stroke-width="2.1"/>
<rect x="1226.51" y="574.69" width="32.00" height="252.24" fill="#b3b3b3" stroke="#202424" stroke-width="2.1"/>
<line x1="1226.51" x2="1258.51" y1="716.73" y2="716.73" stroke="#202424" stroke-width="2.6"/>
<rect x="1281.54" y="554.91" width="2.00" height="13.67" fill="#d8d8d8" stroke="#202424" stroke-width="2.1"/>
<rect x="1282.04" y="542.18" width="1.00" height="12.72" fill="#dddddd" stroke="#202424" stroke-width="2.1"/>
<rect x="1282.29" y="530.87" width="0.50" height="11.31" fill="#e1e1e1" stroke="#202424" stroke-width="2.1"/>
<rect x="1282.42" y="510.61" width="0.25" height="20.26" fill="#e5e5e4" stroke="#202424" stroke-width="2.1"/>
<rect x="1281.54" y="1023.27" width="2.00" height="17.08" fill="#d8d8d8" stroke="#202424" stroke-width="2.1"/>
<rect x="1282.04" y="1040.35" width="1.00" height="15.90" fill="#dddddd" stroke="#202424" stroke-width="2.1"/>
<rect x="1282.29" y="1056.25" width="0.50" height="14.14" fill="#e1e1e1" stroke="#202424" stroke-width="2.1"/>
<rect x="1282.42" y="1070.39" width="0.25" height="25.33" fill="#e5e5e4" stroke="#202424" stroke-width="2.1"/>
<rect x="1280.54" y="568.57" width="4.00" height="13.88" fill="#d2d2d2" stroke="#202424" stroke-width="2.1"/>
<rect x="1280.54" y="982.04" width="4.00" height="41.22" fill="#d2d2d2" stroke="#202424" stroke-width="2.1"/>
<rect x="1278.54" y="582.45" width="8.00" height="57.55" fill="#cacaca" stroke="#202424" stroke-width="2.1"/>
<rect x="1278.54" y="902.86" width="8.00" height="79.18" fill="#cacaca" stroke="#202424" stroke-width="2.1"/>
<rect x="1274.54" y="640.00" width="16.00" height="43.06" fill="#c0c0c0" stroke="#202424" stroke-width="2.1"/>
<rect x="1274.54" y="863.67" width="16.00" height="39.18" fill="#c0c0c0" stroke="#202424" stroke-width="2.1"/>
<rect x="1266.54" y="683.06" width="32.00" height="180.61" fill="#b3b3b3" stroke="#202424" stroke-width="2.1"/>
<line x1="1266.54" x2="1298.54" y1="770.82" y2="770.82" stroke="#202424" stroke-width="2.6"/>
<rect x="1320.58" y="780.41" width="4.00" height="9.59" fill="#d2d2d2" stroke="#202424" stroke-width="2.1"/>
<rect x="1318.58" y="653.88" width="8.00" height="1.22" fill="#cacaca" stroke="#202424" stroke-width="2.1"/>
<rect x="1318.58" y="771.84" width="8.00" height="8.57" fill="#cacaca" stroke="#202424" stroke-width="2.1"/>
<rect x="1314.58" y="655.10" width="16.00" height="1.43" fill="#c0c0c0" stroke="#202424" stroke-width="2.1"/>
<rect x="1314.58" y="750.41" width="16.00" height="21.43" fill="#c0c0c0" stroke="#202424" stroke-width="2.1"/>
<rect x="1306.58" y="656.53" width="32.00" height="93.88" fill="#b3b3b3" stroke="#202424" stroke-width="2.1"/>
<line x1="1306.58" x2="1338.58" y1="693.67" y2="693.67" stroke="#202424" stroke-width="2.6"/>
<rect x="1361.61" y="587.05" width="2.00" height="35.81" fill="#d8d8d8" stroke="#202424" stroke-width="2.1"/>
<rect x="1362.11" y="553.71" width="1.00" height="33.34" fill="#dddddd" stroke="#202424" stroke-width="2.1"/>
<rect x="1362.36" y="499.39" width="0.50" height="54.33" fill="#e1e1e1" stroke="#202424" stroke-width="2.1"/>
<rect x="1361.61" y="928.37" width="2.00" height="33.02" fill="#d8d8d8" stroke="#202424" stroke-width="2.1"/>
<rect x="1362.11" y="961.39" width="1.00" height="30.75" fill="#dddddd" stroke="#202424" stroke-width="2.1"/>
<rect x="1362.36" y="992.14" width="0.50" height="50.11" fill="#e1e1e1" stroke="#202424" stroke-width="2.1"/>
<rect x="1360.61" y="622.86" width="4.00" height="34.08" fill="#d2d2d2" stroke="#202424" stroke-width="2.1"/>
<rect x="1360.61" y="901.43" width="4.00" height="26.94" fill="#d2d2d2" stroke="#202424" stroke-width="2.1"/>
<rect x="1358.61" y="656.94" width="8.00" height="36.33" fill="#cacaca" stroke="#202424" stroke-width="2.1"/>
<rect x="1358.61" y="874.90" width="8.00" height="26.53" fill="#cacaca" stroke="#202424" stroke-width="2.1"/>
<rect x="1354.61" y="693.27" width="16.00" height="36.73" fill="#c0c0c0" stroke="#202424" stroke-width="2.1"/>
<rect x="1354.61" y="823.88" width="16.00" height="51.02" fill="#c0c0c0" stroke="#202424" stroke-width="2.1"/>
<rect x="1346.61" y="730.00" width="32.00" height="93.88" fill="#b3b3b3" stroke="#202424" stroke-width="2.1"/>
<line x1="1346.61" x2="1378.61" y1="784.49" y2="784.49" stroke="#202424" stroke-width="2.6"/>
<rect x="1401.65" y="571.45" width="2.00" height="37.53" fill="#d8d8d8" stroke="#202424" stroke-width="2.1"/>
<rect x="1402.15" y="536.51" width="1.00" height="34.94" fill="#dddddd" stroke="#202424" stroke-width="2.1"/>
<rect x="1402.40" y="505.45" width="0.50" height="31.06" fill="#e1e1e1" stroke="#202424" stroke-width="2.1"/>
<rect x="1402.52" y="449.80" width="0.25" height="55.65" fill="#e5e5e4" stroke="#202424" stroke-width="2.1"/>
<rect x="1400.65" y="608.98" width="4.00" height="27.14" fill="#d2d2d2" stroke="#202424" stroke-width="2.1"/>
<rect x="1398.65" y="636.12" width="8.00" height="27.96" fill="#cacaca" stroke="#202424" stroke-width="2.1"/>
<rect x="1398.65" y="1096.33" width="8.00" height="55.10" fill="#cacaca" stroke="#202424" stroke-width="2.1"/>
<rect x="1394.65" y="664.08" width="16.00" height="46.94" fill="#c0c0c0" stroke="#202424" stroke-width="2.1"/>
<rect x="1394.65" y="1096.33" width="16.00" height="0.01" fill="#c0c0c0" stroke="#202424" stroke-width="2.1"/>
<rect x="1386.65" y="711.02" width="32.00" height="385.31" fill="#b3b3b3" stroke="#202424" stroke-width="2.1"/>
<line x1="1386.65" x2="1418.65" y1="788.57" y2="788.57" stroke="#202424" stroke-width="2.6"/>
<rect x="1441.68" y="531.43" width="2.00" height="20.41" fill="#a5bad0" stroke="#202424" stroke-width="2.1"/>
<rect x="1441.68" y="931.43" width="2.00" height="17.35" fill="#a5bad0" stroke="#202424" stroke-width="2.1"/>
<rect x="1440.68" y="551.84" width="4.00" height="35.10" fill="#91abc6" stroke="#202424" stroke-width="2.1"/>
<rect x="1440.68" y="927.76" width="4.00" height="3.67" fill="#91abc6" stroke="#202424" stroke-width="2.1"/>
<rect x="1438.68" y="586.94" width="8.00" height="36.73" fill="#7899bb" stroke="#202424" stroke-width="2.1"/>
<rect x="1438.68" y="881.02" width="8.00" height="46.73" fill="#7899bb" stroke="#202424" stroke-width="2.1"/>
<rect x="1434.68" y="623.67" width="16.00" height="30.82" fill="#5982ad" stroke="#202424" stroke-width="2.1"/>
<rect x="1434.68" y="779.39" width="16.00" height="101.63" fill="#5982ad" stroke="#202424" stroke-width="2.1"/>
<rect x="1426.68" y="654.49" width="32.00" height="124.90" fill="#32669b" stroke="#202424" stroke-width="2.1"/>
<line x1="1426.68" x2="1458.68" y1="724.29" y2="724.29" stroke="#202424" stroke-width="2.6"/>
</g>
<line x1="121.80" x2="1520" y1="477.89" y2="477.89" stroke="#008000" stroke-opacity="0.5" stroke-width="4.4" stroke-dasharray="4.5 7.37"/>
<line x1="121.80" x2="1520" y1="605.10" y2="605.10" stroke="#000000" stroke-opacity="0.5" stroke-width="4.4" stroke-dasharray="4.5 7.37"/>
<line x1="121.80" x2="1520" y1="659.89" y2="659.89" stroke="#0000ff" stroke-opacity="0.5" stroke-width="4.4" stroke-dasharray="4.5 7.37"/>
<line x1="121.80" x2="1520" y1="969.10" y2="969.10" stroke="#ff0000" stroke-opacity="0.5" stroke-width="4.4" stroke-dasharray="4.5 7.37"/>
<path d="M122.20 321.3 V1190.50 H1524.00" fill="none" stroke="#000" stroke-width="3.4" stroke-linecap="butt" stroke-linejoin="miter"/>
<line x1="104" x2="122.20" y1="1151.10" y2="1151.10" stroke="#000" stroke-width="3.5"/>
<text x="90.8" y="1164.13" text-anchor="end" font-family='"DejaVu Sans", "Liberation Sans", sans-serif' font-size="33.0" fill="#000">0</text>
<line x1="104" x2="122.20" y1="969.10" y2="969.10" stroke="#000" stroke-width="3.5"/>
<text x="90.8" y="982.13" text-anchor="end" font-family='"DejaVu Sans", "Liberation Sans", sans-serif' font-size="33.0" fill="#000">1</text>
<line x1="104" x2="122.20" y1="787.10" y2="787.10" stroke="#000" stroke-width="3.5"/>
<text x="90.8" y="800.13" text-anchor="end" font-family='"DejaVu Sans", "Liberation Sans", sans-serif' font-size="33.0" fill="#000">2</text>
<line x1="104" x2="122.20" y1="605.10" y2="605.10" stroke="#000" stroke-width="3.5"/>
<text x="90.8" y="618.13" text-anchor="end" font-family='"DejaVu Sans", "Liberation Sans", sans-serif' font-size="33.0" fill="#000">3</text>
<line x1="104" x2="122.20" y1="423.10" y2="423.10" stroke="#000" stroke-width="3.5"/>
<text x="90.8" y="436.13" text-anchor="end" font-family='"DejaVu Sans", "Liberation Sans", sans-serif' font-size="33.0" fill="#000">4</text>
<line x1="201.60" x2="201.60" y1="1190.50" y2="1208.4" stroke="#000" stroke-width="3.5"/>
<line x1="241.63" x2="241.63" y1="1190.50" y2="1208.4" stroke="#000" stroke-width="3.5"/>
<line x1="281.67" x2="281.67" y1="1190.50" y2="1208.4" stroke="#000" stroke-width="3.5"/>
<line x1="321.70" x2="321.70" y1="1190.50" y2="1208.4" stroke="#000" stroke-width="3.5"/>
<line x1="361.74" x2="361.74" y1="1190.50" y2="1208.4" stroke="#000" stroke-width="3.5"/>
<line x1="401.77" x2="401.77" y1="1190.50" y2="1208.4" stroke="#000" stroke-width="3.5"/>
<line x1="441.81" x2="441.81" y1="1190.50" y2="1208.4" stroke="#000" stroke-width="3.5"/>
<line x1="481.85" x2="481.85" y1="1190.50" y2="1208.4" stroke="#000" stroke-width="3.5"/>
<line x1="521.88" x2="521.88" y1="1190.50" y2="1208.4" stroke="#000" stroke-width="3.5"/>
<line x1="561.91" x2="561.91" y1="1190.50" y2="1208.4" stroke="#000" stroke-width="3.5"/>
<line x1="601.95" x2="601.95" y1="1190.50" y2="1208.4" stroke="#000" stroke-width="3.5"/>
<line x1="641.99" x2="641.99" y1="1190.50" y2="1208.4" stroke="#000" stroke-width="3.5"/>
<line x1="682.02" x2="682.02" y1="1190.50" y2="1208.4" stroke="#000" stroke-width="3.5"/>
<line x1="722.05" x2="722.05" y1="1190.50" y2="1208.4" stroke="#000" stroke-width="3.5"/>
<line x1="762.09" x2="762.09" y1="1190.50" y2="1208.4" stroke="#000" stroke-width="3.5"/>
<line x1="802.12" x2="802.12" y1="1190.50" y2="1208.4" stroke="#000" stroke-width="3.5"/>
<line x1="842.16" x2="842.16" y1="1190.50" y2="1208.4" stroke="#000" stroke-width="3.5"/>
<line x1="882.19" x2="882.19" y1="1190.50" y2="1208.4" stroke="#000" stroke-width="3.5"/>
<line x1="922.23" x2="922.23" y1="1190.50" y2="1208.4" stroke="#000" stroke-width="3.5"/>
<line x1="962.26" x2="962.26" y1="1190.50" y2="1208.4" stroke="#000" stroke-width="3.5"/>
<line x1="1002.30" x2="1002.30" y1="1190.50" y2="1208.4" stroke="#000" stroke-width="3.5"/>
<line x1="1042.33" x2="1042.33" y1="1190.50" y2="1208.4" stroke="#000" stroke-width="3.5"/>
<line x1="1082.37" x2="1082.37" y1="1190.50" y2="1208.4" stroke="#000" stroke-width="3.5"/>
<line x1="1122.40" x2="1122.40" y1="1190.50" y2="1208.4" stroke="#000" stroke-width="3.5"/>
<line x1="1162.44" x2="1162.44" y1="1190.50" y2="1208.4" stroke="#000" stroke-width="3.5"/>
<line x1="1202.47" x2="1202.47" y1="1190.50" y2="1208.4" stroke="#000" stroke-width="3.5"/>
<line x1="1242.51" x2="1242.51" y1="1190.50" y2="1208.4" stroke="#000" stroke-width="3.5"/>
<line x1="1282.54" x2="1282.54" y1="1190.50" y2="1208.4" stroke="#000" stroke-width="3.5"/>
<line x1="1322.58" x2="1322.58" y1="1190.50" y2="1208.4" stroke="#000" stroke-width="3.5"/>
<line x1="1362.61" x2="1362.61" y1="1190.50" y2="1208.4" stroke="#000" stroke-width="3.5"/>
<line x1="1402.65" x2="1402.65" y1="1190.50" y2="1208.4" stroke="#000" stroke-width="3.5"/>
<line x1="1442.68" x2="1442.68" y1="1190.50" y2="1208.4" stroke="#000" stroke-width="3.5"/>
<text transform="translate(213.80,1224.50) rotate(-90)" text-anchor="end" font-family='"DejaVu Sans", "Liberation Sans", sans-serif' font-size="33.0" fill="#000">DSSAT-Pythia</text>
<text transform="translate(253.83,1224.50) rotate(-90)" text-anchor="end" font-family='"DejaVu Sans", "Liberation Sans", sans-serif' font-size="33.0" fill="#000">LPJmL</text>
<text transform="translate(293.87,1224.50) rotate(-90)" text-anchor="end" font-family='"DejaVu Sans", "Liberation Sans", sans-serif' font-size="33.0" fill="#000">EPIC-TAMU</text>
<text transform="translate(333.90,1224.50) rotate(-90)" text-anchor="end" font-family='"DejaVu Sans", "Liberation Sans", sans-serif' font-size="33.0" fill="#000">LPJ-GUESS</text>
<text transform="translate(373.94,1224.50) rotate(-90)" text-anchor="end" font-family='"DejaVu Sans", "Liberation Sans", sans-serif' font-size="33.0" fill="#000">CGMS-WOFOST</text>
<text transform="translate(413.97,1224.50) rotate(-90)" text-anchor="end" font-family='"DejaVu Sans", "Liberation Sans", sans-serif' font-size="33.0" fill="#000">ACEA</text>
<text transform="translate(454.01,1224.50) rotate(-90)" text-anchor="end" font-family='"DejaVu Sans", "Liberation Sans", sans-serif' font-size="33.0" fill="#000">CLASSIC</text>
<text transform="translate(494.05,1224.50) rotate(-90)" text-anchor="end" font-family='"DejaVu Sans", "Liberation Sans", sans-serif' font-size="33.0" fill="#000">MC2-USFS-r87g5c1</text>
<text transform="translate(534.08,1224.50) rotate(-90)" text-anchor="end" font-family='"DejaVu Sans", "Liberation Sans", sans-serif' font-size="33.0" fill="#000">SSiB4-TRIFFID-Fire</text>
<text transform="translate(574.12,1224.50) rotate(-90)" text-anchor="end" font-family='"DejaVu Sans", "Liberation Sans", sans-serif' font-size="33.0" fill="#000">EcoTroph</text>
<text transform="translate(614.15,1224.50) rotate(-90)" text-anchor="end" font-family='"DejaVu Sans", "Liberation Sans", sans-serif' font-size="33.0" fill="#000">DBPM</text>
<text transform="translate(654.19,1224.50) rotate(-90)" text-anchor="end" font-family='"DejaVu Sans", "Liberation Sans", sans-serif' font-size="33.0" fill="#000">BOATS</text>
<text transform="translate(694.22,1224.50) rotate(-90)" text-anchor="end" font-family='"DejaVu Sans", "Liberation Sans", sans-serif' font-size="33.0" fill="#000">ZooMSS</text>
<text transform="translate(734.25,1224.50) rotate(-90)" text-anchor="end" font-family='"DejaVu Sans", "Liberation Sans", sans-serif' font-size="33.0" fill="#000">FEISTY</text>
<text transform="translate(774.29,1224.50) rotate(-90)" text-anchor="end" font-family='"DejaVu Sans", "Liberation Sans", sans-serif' font-size="33.0" fill="#000">G3M</text>
<text transform="translate(814.33,1224.50) rotate(-90)" text-anchor="end" font-family='"DejaVu Sans", "Liberation Sans", sans-serif' font-size="33.0" fill="#000">parflow</text>
<text transform="translate(854.36,1224.50) rotate(-90)" text-anchor="end" font-family='"DejaVu Sans", "Liberation Sans", sans-serif' font-size="33.0" fill="#000">VECTRI</text>
<text transform="translate(894.39,1224.50) rotate(-90)" text-anchor="end" font-family='"DejaVu Sans", "Liberation Sans", sans-serif' font-size="33.0" fill="#000">GOTM</text>
<text transform="translate(934.43,1224.50) rotate(-90)" text-anchor="end" font-family='"DejaVu Sans", "Liberation Sans", sans-serif' font-size="33.0" fill="#000">SIMSTRAT-UoG</text>
<text transform="translate(974.47,1224.50) rotate(-90)" text-anchor="end" font-family='"DejaVu Sans", "Liberation Sans", sans-serif' font-size="33.0" fill="#000">ALBM</text>
<text transform="translate(1014.50,1224.50) rotate(-90)" text-anchor="end" font-family='"DejaVu Sans", "Liberation Sans", sans-serif' font-size="33.0" fill="#000">BioScen1.5_SDM</text>
<text transform="translate(1054.53,1224.50) rotate(-90)" text-anchor="end" font-family='"DejaVu Sans", "Liberation Sans", sans-serif' font-size="33.0" fill="#000">BioScen1.5_MEM</text>
<text transform="translate(1094.57,1224.50) rotate(-90)" text-anchor="end" font-family='"DejaVu Sans", "Liberation Sans", sans-serif' font-size="33.0" fill="#000">WAYS</text>
<text transform="translate(1134.61,1224.50) rotate(-90)" text-anchor="end" font-family='"DejaVu Sans", "Liberation Sans", sans-serif' font-size="33.0" fill="#000">VIC</text>
<text transform="translate(1174.64,1224.50) rotate(-90)" text-anchor="end" font-family='"DejaVu Sans", "Liberation Sans", sans-serif' font-size="33.0" fill="#000">H08</text>
<text transform="translate(1214.67,1224.50) rotate(-90)" text-anchor="end" font-family='"DejaVu Sans", "Liberation Sans", sans-serif' font-size="33.0" fill="#000">WaterGAP2.2e</text>
<text transform="translate(1254.71,1224.50) rotate(-90)" text-anchor="end" font-family='"DejaVu Sans", "Liberation Sans", sans-serif' font-size="33.0" fill="#000">WBM</text>
<text transform="translate(1294.74,1224.50) rotate(-90)" text-anchor="end" font-family='"DejaVu Sans", "Liberation Sans", sans-serif' font-size="33.0" fill="#000">PCR-GLOBWB</text>
<text transform="translate(1334.78,1224.50) rotate(-90)" text-anchor="end" font-family='"DejaVu Sans", "Liberation Sans", sans-serif' font-size="33.0" fill="#000">HydroPy</text>
<text transform="translate(1374.81,1224.50) rotate(-90)" text-anchor="end" font-family='"DejaVu Sans", "Liberation Sans", sans-serif' font-size="33.0" fill="#000">DBH</text>
<text transform="translate(1414.85,1224.50) rotate(-90)" text-anchor="end" font-family='"DejaVu Sans", "Liberation Sans", sans-serif' font-size="33.0" fill="#000">CWatM</text>
<text transform="translate(1454.88,1224.50) rotate(-90)" text-anchor="end" font-family='"DejaVu Sans", "Liberation Sans", sans-serif' font-size="33.0" fill="#000">DynQual</text>
<text x="822.4" y="1580.7" text-anchor="middle" font-family='"DejaVu Sans", "Liberation Sans", sans-serif' font-size="37.2" fill="#000">Model</text>
<text transform="translate(45.6,754.9) rotate(-90)" text-anchor="middle" font-family='"DejaVu Sans", "Liberation Sans", sans-serif' font-size="37.7" fill="#000"><tspan font-style="italic">log</tspan><tspan font-size="26.39" dy="6.03">10</tspan><tspan dy="-6.03">[Total lines of code per file(-)]</tspan></text>
<text transform="translate(191.60,352.70) rotate(-90)" y="0" font-family='"Liberation Sans", Arimo, Arial, sans-serif' font-size="37.79" fill="#000"><tspan x="-2.95 9.70 30.80 51.90 73.00">(2276</tspan> <tspan x="108.15">|</tspan> <tspan x="132.10 153.20 174.28">30)</tspan></text>
<text transform="translate(234.40,352.70) rotate(-90)" y="0" font-family='"Liberation Sans", Arimo, Arial, sans-serif' font-size="37.79" fill="#000"><tspan x="-2.95 9.70 30.80 51.90">(136</tspan> <tspan x="82.42 103.52 124.62">002</tspan> <tspan x="159.77">|</tspan> <tspan x="183.72 204.82 225.92 247.00">935)</tspan></text>
<text transform="translate(280.30,352.70) rotate(-90)" y="0" font-family='"Liberation Sans", Arimo, Arial, sans-serif' font-size="37.79" fill="#000"><tspan x="-2.95 9.70 30.80">(15</tspan> <tspan x="61.32 82.42 103.52">411</tspan> <tspan x="138.67">|</tspan> <tspan x="162.62 183.72 204.82 225.90">174)</tspan></text>
<text transform="translate(323.80,352.70) rotate(-90)" y="0" font-family='"Liberation Sans", Arimo, Arial, sans-serif' font-size="37.79" fill="#000"><tspan x="-2.95 9.70 30.80">(62</tspan> <tspan x="61.32 82.42 103.52">595</tspan> <tspan x="138.67 153.20 174.30 195.41 216.49">|187)</tspan></text>
<text transform="translate(364.40,352.70) rotate(-90)" y="0" font-family='"Liberation Sans", Arimo, Arial, sans-serif' font-size="37.79" fill="#000"><tspan x="-2.95 9.70 30.80">(26</tspan> <tspan x="61.32 82.42 103.52">680</tspan> <tspan x="138.67">|</tspan> <tspan x="162.62 183.72 204.80">46)</tspan></text>
<text transform="translate(407.00,352.70) rotate(-90)" y="0" font-family='"Liberation Sans", Arimo, Arial, sans-serif' font-size="37.79" fill="#000"><tspan x="-2.95 9.70 30.80">(17</tspan> <tspan x="61.32 82.42 103.52">145</tspan> <tspan x="138.67">|</tspan> <tspan x="162.62 183.72 204.82 225.90">198)</tspan></text>
<text transform="translate(453.30,352.70) rotate(-90)" y="0" font-family='"Liberation Sans", Arimo, Arial, sans-serif' font-size="37.79" fill="#000"><tspan x="-2.95 9.70 30.80">(82</tspan> <tspan x="61.32 82.42 103.52">542</tspan> <tspan x="138.67">|</tspan> <tspan x="162.62 183.72 204.82 225.90">126)</tspan></text>
<text transform="translate(495.90,352.70) rotate(-90)" y="0" font-family='"Liberation Sans", Arimo, Arial, sans-serif' font-size="37.79" fill="#000"><tspan x="-2.95 9.70 30.80">(39</tspan> <tspan x="61.32 82.42 103.52">337</tspan> <tspan x="138.67">|</tspan> <tspan x="162.62 183.72 204.82 225.90">139)</tspan></text>
<text transform="translate(538.40,352.70) rotate(-90)" y="0" font-family='"Liberation Sans", Arimo, Arial, sans-serif' font-size="37.79" fill="#000"><tspan x="-2.95 9.70 30.80">(24</tspan> <tspan x="61.32 82.42 103.52">101</tspan> <tspan x="138.67">|</tspan> <tspan x="162.62 183.72 204.80">61)</tspan></text>
<text transform="translate(578.20,352.70) rotate(-90)" y="0" font-family='"Liberation Sans", Arimo, Arial, sans-serif' font-size="37.79" fill="#000"><tspan x="-2.95 9.70 30.80 51.90">(262</tspan> <tspan x="87.05">|</tspan> <tspan x="111.00 132.08">8)</tspan></text>
<text transform="translate(616.40,352.70) rotate(-90)" y="0" font-family='"Liberation Sans", Arimo, Arial, sans-serif' font-size="37.79" fill="#000"><tspan x="-2.95 9.70 30.80 51.90 73.00">(3888</tspan> <tspan x="108.15">|</tspan> <tspan x="132.10 153.20 174.28">23)</tspan></text>
<text transform="translate(654.90,352.70) rotate(-90)" y="0" font-family='"Liberation Sans", Arimo, Arial, sans-serif' font-size="37.79" fill="#000"><tspan x="-2.95 9.70 30.80 51.90 73.00">(2209</tspan> <tspan x="108.15">|</tspan> <tspan x="132.10 153.20 174.28">23)</tspan></text>
<text transform="translate(694.40,352.70) rotate(-90)" y="0" font-family='"Liberation Sans", Arimo, Arial, sans-serif' font-size="37.79" fill="#000"><tspan x="-2.95 9.70 30.80 51.90 73.00">(1021</tspan> <tspan x="108.15">|</tspan> <tspan x="132.10 153.20 174.28">11)</tspan></text>
<text transform="translate(730.40,352.70) rotate(-90)" y="0" font-family='"Liberation Sans", Arimo, Arial, sans-serif' font-size="37.79" fill="#000"><tspan x="-2.95 9.70 30.80 51.90">(460</tspan> <tspan x="82.42 103.52 124.62">447</tspan> <tspan x="159.77">|</tspan> <tspan x="183.72 204.72 215.21 236.31 257.41 278.49">2,318)</tspan></text>
<text transform="translate(770.30,352.70) rotate(-90)" y="0" font-family='"Liberation Sans", Arimo, Arial, sans-serif' font-size="37.79" fill="#000"><tspan x="-2.95 9.70 30.80 51.90">(153</tspan> <tspan x="82.42 103.52 124.62">015</tspan> <tspan x="159.77 174.30 195.41 216.51 237.59">|409)</tspan></text>
<text transform="translate(808.90,352.70) rotate(-90)" y="0" font-family='"Liberation Sans", Arimo, Arial, sans-serif' font-size="37.79" fill="#000"><tspan x="-2.95 9.70 30.80 51.90">(282</tspan> <tspan x="82.42 103.52 124.62">722</tspan> <tspan x="159.77">|</tspan> <tspan x="183.72 204.72 215.21 236.31 257.41 278.49">1,048)</tspan></text>
<text transform="translate(848.40,352.70) rotate(-90)" y="0" font-family='"Liberation Sans", Arimo, Arial, sans-serif' font-size="37.79" fill="#000"><tspan x="-2.95 9.70 30.80 51.90 73.00">(7006</tspan> <tspan x="108.15">|</tspan> <tspan x="132.10 153.20 174.28">36)</tspan></text>
<text transform="translate(887.40,352.70) rotate(-90)" y="0" font-family='"Liberation Sans", Arimo, Arial, sans-serif' font-size="37.79" fill="#000"><tspan x="-2.95 9.70 30.80">(29</tspan> <tspan x="61.32 82.42 103.52">477</tspan> <tspan x="138.67">|</tspan> <tspan x="162.62 183.72 204.82 225.90">150)</tspan></text>
<text transform="translate(925.90,352.70) rotate(-90)" y="0" font-family='"Liberation Sans", Arimo, Arial, sans-serif' font-size="37.79" fill="#000"><tspan x="-2.95 9.70 30.80">(21</tspan> <tspan x="61.32 82.42 103.52">430</tspan> <tspan x="138.67">|</tspan> <tspan x="162.62 183.72 204.80">52)</tspan></text>
<text transform="translate(975.00,352.70) rotate(-90)" y="0" font-family='"Liberation Sans", Arimo, Arial, sans-serif' font-size="37.79" fill="#000"><tspan x="-2.95 9.70 30.80 51.90">(164</tspan> <tspan x="82.42 103.52 124.62">461</tspan> <tspan x="159.77">|</tspan> <tspan x="183.72 204.82 225.92 247.00">641)</tspan></text>
<text transform="translate(1018.30,352.70) rotate(-90)" y="0" font-family='"Liberation Sans", Arimo, Arial, sans-serif' font-size="37.79" fill="#000"><tspan x="-2.95 9.70 30.80 51.90 73.00">(4525</tspan> <tspan x="108.15">|</tspan> <tspan x="132.10 153.20 174.28">32)</tspan></text>
<text transform="translate(1056.80,352.70) rotate(-90)" y="0" font-family='"Liberation Sans", Arimo, Arial, sans-serif' font-size="37.79" fill="#000"><tspan x="-2.95 9.70 30.80 51.90 73.00">(4094</tspan> <tspan x="108.15">|</tspan> <tspan x="132.10 153.18">6)</tspan></text>
<text transform="translate(1096.40,352.70) rotate(-90)" y="0" font-family='"Liberation Sans", Arimo, Arial, sans-serif' font-size="37.79" fill="#000"><tspan x="-2.95 9.70 30.80 51.90 73.00">(2863</tspan> <tspan x="108.15">|</tspan> <tspan x="132.10 153.20 174.28">19)</tspan></text>
<text transform="translate(1135.30,352.70) rotate(-90)" y="0" font-family='"Liberation Sans", Arimo, Arial, sans-serif' font-size="37.79" fill="#000"><tspan x="-2.95 9.70 30.80">(58</tspan> <tspan x="61.32 82.42 103.52">059</tspan> <tspan x="138.67">|</tspan> <tspan x="162.62 183.72 204.82 225.90">287)</tspan></text>
<text transform="translate(1177.70,352.70) rotate(-90)" y="0" font-family='"Liberation Sans", Arimo, Arial, sans-serif' font-size="37.79" fill="#000"><tspan x="-2.95 9.70 30.80">(65</tspan> <tspan x="61.32 82.42 103.52">413</tspan> <tspan x="138.67">|</tspan> <tspan x="162.62 183.72 204.82 225.90">379)</tspan></text>
<text transform="translate(1216.00,352.70) rotate(-90)" y="0" font-family='"Liberation Sans", Arimo, Arial, sans-serif' font-size="37.79" fill="#000"><tspan x="-2.95 9.70 30.80">(25</tspan> <tspan x="61.32 82.42 103.52 129.26">204|</tspan> <tspan x="153.20 174.30 195.38">85)</tspan></text>
<text transform="translate(1251.90,352.70) rotate(-90)" y="0" font-family='"Liberation Sans", Arimo, Arial, sans-serif' font-size="37.79" fill="#000"><tspan x="-2.95 9.70 30.80">(23</tspan> <tspan x="61.32 82.42 103.52 129.26">332|</tspan> <tspan x="153.20 174.30 195.38">16)</tspan></text>
<text transform="translate(1292.60,352.70) rotate(-90)" y="0" font-family='"Liberation Sans", Arimo, Arial, sans-serif' font-size="37.79" fill="#000"><tspan x="-2.95 9.70 30.80">(46</tspan> <tspan x="61.32 82.42 103.52 129.26 143.79 164.89 185.99 207.07">900|138)</tspan></text>
<text transform="translate(1332.00,352.70) rotate(-90)" y="0" font-family='"Liberation Sans", Arimo, Arial, sans-serif' font-size="37.79" fill="#000"><tspan x="-2.95 9.70 30.80 51.90 73.00 98.74">(3186|</tspan> <tspan x="122.69 143.77">9)</tspan></text>
<text transform="translate(1368.00,352.70) rotate(-90)" y="0" font-family='"Liberation Sans", Arimo, Arial, sans-serif' font-size="37.79" fill="#000"><tspan x="-2.95 9.70 30.80">(22</tspan> <tspan x="61.32 82.42 103.52 129.26">713|</tspan> <tspan x="153.20 174.30 195.41 216.49">106)</tspan></text>
<text transform="translate(1411.30,352.70) rotate(-90)" y="0" font-family='"Liberation Sans", Arimo, Arial, sans-serif' font-size="37.79" fill="#000"><tspan x="-2.95 9.70 30.80">(33</tspan> <tspan x="61.32 82.42 103.52 129.26">236|</tspan> <tspan x="153.20 174.30 195.41 216.49">133)</tspan></text>
<text transform="translate(1452.40,352.70) rotate(-90)" y="0" font-family='"Liberation Sans", Arimo, Arial, sans-serif' font-size="37.79" fill="#000"><tspan x="-2.95 9.70 30.80">(15</tspan> <tspan x="61.32 82.42 103.52 129.26">537|</tspan> <tspan x="153.20 174.30 195.38">31)</tspan></text>
<text transform="translate(1758.40,334.20) rotate(-90)" y="0" font-family='"Liberation Sans", Arimo, Arial, sans-serif' font-size="37.79" fill="#000"><tspan x="-2.97" textLength="98.14" lengthAdjust="spacingAndGlyphs">(TLOC</tspan> <tspan x="108.87">|</tspan> <tspan x="131.90 158.96 180.12">No.</tspan> <tspan x="199.98 222.22">of</tspan> <tspan x="243.88 255.84 265.20 273.71 292.89 310.21">files)</tspan></text>
<text transform="translate(1646.35,492.00)" y="0" font-family='"Liberation Sans", Arimo, Arial, sans-serif' font-size="37.79" font-weight="bold" fill="#7fbf7f"><tspan x="-90.43 -69.60 -48.76 -27.93">5000</tspan> <tspan x="2.29" textLength="87.29" lengthAdjust="spacingAndGlyphs">TLOC</tspan></text>
<text transform="translate(1646.60,610.00)" y="0" font-family='"Liberation Sans", Arimo, Arial, sans-serif' font-size="37.79" font-weight="bold" fill="#7f7f7f"><tspan x="-91.20 -70.37 -49.53 -28.70">1000</tspan> <tspan x="1.52" textLength="87.29" lengthAdjust="spacingAndGlyphs">TLOC</tspan></text>
<text transform="translate(1638.50,674.20)" y="0" font-family='"Liberation Sans", Arimo, Arial, sans-serif' font-size="37.79" font-weight="bold" fill="#7f7fff"><tspan x="-80.01 -59.18 -38.34">500</tspan> <tspan x="-8.12" textLength="87.29" lengthAdjust="spacingAndGlyphs">TLOC</tspan></text>
<text transform="translate(1625.25,982.00)" y="0" font-family='"Liberation Sans", Arimo, Arial, sans-serif' font-size="37.79" font-weight="bold" fill="#ff7f7f"><tspan x="-70.37 -49.53">10</tspan> <tspan x="-19.31" textLength="87.29" lengthAdjust="spacingAndGlyphs">TLOC</tspan></text>
<text transform="translate(1961.60,559.60)" y="0" font-family='"Liberation Sans", Arimo, Arial, sans-serif' font-size="37.79" fill="#000"><tspan x="-54.12 -26.69 -4.82 16.47 38.31">Upper</tspan></text>
<text transform="translate(1956.25,611.40)" y="0" font-family='"Liberation Sans", Arimo, Arial, sans-serif' font-size="37.79" fill="#000"><tspan x="-93.28 -59.28 -37.36 -15.49 6.54 14.98 36.42 50.55 61.25 73.45">Modularity</tspan></text>
<text transform="translate(1961.05,663.20)" y="0" font-family='"Liberation Sans", Arimo, Arial, sans-serif' font-size="37.79" fill="#000"><tspan x="-44.67 -24.83 -14.97 17.98 28.68">Limit</tspan></text>
<text transform="translate(1949.65,937.50)" y="0" font-family='"Liberation Sans", Arimo, Arial, sans-serif' font-size="37.79" fill="#000"><tspan x="-54.95 -35.22 -12.50 15.87 37.71">Lower</tspan></text>
<text transform="translate(1949.60,989.30)" y="0" font-family='"Liberation Sans", Arimo, Arial, sans-serif' font-size="37.79" fill="#000"><tspan x="-93.28 -59.28 -37.36 -15.49 6.54 14.98 36.42 50.55 61.25 73.45">Modularity</tspan></text>
<text transform="translate(1954.80,1041.00)" y="0" font-family='"Liberation Sans", Arimo, Arial, sans-serif' font-size="37.79" fill="#000"><tspan x="-44.67 -24.83 -14.97 17.98 28.68">Limit</tspan></text>
<path id="brace" fill="#000" d="M1763 470.8 L1765.7 466 C1772 465.2 1782 465.2 1788 465.3 C1792 465.5 1794 469 1794.2 474 L1794.6 530 C1795 548 1802 572 1820.2 588.3 C1810 598 1807 610 1807 625 L1806.7 664 C1806.5 672 1802 678 1792 678.2 L1771.2 678.3 C1780 677.5 1788 677 1791 672 C1793 668 1793.3 660 1793.4 650 L1793.5 622 C1793.6 606 1798 596 1806.7 588.3 C1795 580 1786 566 1783.2 542 C1782.5 536 1781 533 1781 528 L1781 499 C1781 485 1781.5 474 1778 469.2 C1777 468.5 1776.9 470 1776 470.3 L1763 470.8 Z"/>
<rect x="130.3" y="1616.7" width="481.40" height="494.20" rx="6" ry="6" fill="#fff" stroke="#d0d0d0" stroke-width="2.8"/>
<rect x="142.4" y="1631.00" width="65.7" height="23.1" fill="#72b6a1" stroke="#202424" stroke-width="2"/>
<text x="235.0" y="1653.90" font-family='"DejaVu Sans", "Liberation Sans", sans-serif' font-size="32.8" fill="#000">Agriculture</text>
<rect x="142.4" y="1679.69" width="65.7" height="23.1" fill="#e99675" stroke="#202424" stroke-width="2"/>
<text x="235.0" y="1702.59" font-family='"DejaVu Sans", "Liberation Sans", sans-serif' font-size="32.8" fill="#000">Biomes</text>
<rect x="142.4" y="1728.38" width="65.7" height="23.1" fill="#95a3c3" stroke="#202424" stroke-width="2"/>
<text x="235.0" y="1751.28" font-family='"DejaVu Sans", "Liberation Sans", sans-serif' font-size="32.8" fill="#000">Fire</text>
<rect x="142.4" y="1777.07" width="65.7" height="23.1" fill="#db96c0" stroke="#202424" stroke-width="2"/>
<text x="235.0" y="1799.97" font-family='"DejaVu Sans", "Liberation Sans", sans-serif' font-size="32.8" fill="#000">Fisheries</text>
<rect x="142.4" y="1825.76" width="65.7" height="23.1" fill="#7c501a" stroke="#202424" stroke-width="2"/>
<text x="235.0" y="1848.66" font-family='"DejaVu Sans", "Liberation Sans", sans-serif' font-size="32.8" fill="#000">Groundwater</text>
<rect x="142.4" y="1874.45" width="65.7" height="23.1" fill="#e5c849" stroke="#202424" stroke-width="2"/>
<text x="235.0" y="1897.35" font-family='"DejaVu Sans", "Liberation Sans", sans-serif' font-size="32.8" fill="#000">Health</text>
<rect x="142.4" y="1923.14" width="65.7" height="23.1" fill="#dbc29e" stroke="#202424" stroke-width="2"/>
<text x="235.0" y="1946.04" font-family='"DejaVu Sans", "Liberation Sans", sans-serif' font-size="32.8" fill="#000">Lakes</text>
<rect x="142.4" y="1971.83" width="65.7" height="23.1" fill="#c56c5e" stroke="#202424" stroke-width="2"/>
<text x="235.0" y="1994.73" font-family='"DejaVu Sans", "Liberation Sans", sans-serif' font-size="32.8" fill="#000">Terrestrial biodiversity</text>
<rect x="142.4" y="2020.52" width="65.7" height="23.1" fill="#b3b3b3" stroke="#202424" stroke-width="2"/>
<text x="235.0" y="2043.42" font-family='"DejaVu Sans", "Liberation Sans", sans-serif' font-size="32.8" fill="#000">Water</text>
<rect x="142.4" y="2069.21" width="65.7" height="23.1" fill="#32669b" stroke="#202424" stroke-width="2"/>
<text x="235.0" y="2092.11" font-family='"DejaVu Sans", "Liberation Sans", sans-serif' font-size="32.8" fill="#000">Water quality</text>
<line x1="734.2" x2="734.2" y1="1729.5" y2="1760.7" stroke="#333" stroke-width="1.8"/>
<rect x="716.3" y="1762.2" width="35.8" height="45.9" fill="#d0d0d0"/>
<rect x="706.3" y="1809.2" width="54.1" height="45.8" fill="#d0d0d0"/>
<rect x="697.6" y="1856.1" width="71.6" height="109.8" fill="#d0d0d0"/>
<rect x="706.3" y="1966.8" width="54.1" height="45.4" fill="#d0d0d0"/>
<rect x="716.3" y="2014.4" width="35.8" height="45.4" fill="#d0d0d0"/>
<line x1="696.7" x2="770.9" y1="1927.7" y2="1927.7" stroke="#666" stroke-width="2"/>
<line x1="734.2" x2="734.2" y1="2062.4" y2="2092.4" stroke="#333" stroke-width="1.8"/>
<text transform="translate(822.45,1751.70)" y="0" font-family='"Liberation Sans", Arimo, Arial, sans-serif' font-size="34.06" fill="#000"><tspan x="-32.58 -2.84 15.23">Max</tspan></text>
<text transform="translate(839.05,1819.70)" y="0" font-family='"Liberation Sans", Arimo, Arial, sans-serif' font-size="34.06" fill="#000"><tspan x="-46.82" textLength="93.35" lengthAdjust="spacingAndGlyphs">87.5%</tspan></text>
<text transform="translate(825.95,1872.50)" y="0" font-family='"Liberation Sans", Arimo, Arial, sans-serif' font-size="34.06" fill="#000"><tspan x="-32.71" textLength="64.86" lengthAdjust="spacingAndGlyphs">75%</tspan></text>
<text transform="translate(849.40,1931.90)" y="0" font-family='"Liberation Sans", Arimo, Arial, sans-serif' font-size="34.06" fill="#000"><tspan x="-56.90 -26.81 -7.62 12.23 19.84 38.68">Median</tspan></text>
<text transform="translate(824.45,1979.50)" y="0" font-family='"Liberation Sans", Arimo, Arial, sans-serif' font-size="34.06" fill="#000"><tspan x="-32.66" textLength="64.86" lengthAdjust="spacingAndGlyphs">25%</tspan></text>
<text transform="translate(837.40,2024.20)" y="0" font-family='"Liberation Sans", Arimo, Arial, sans-serif' font-size="34.06" fill="#000"><tspan x="-47.66" textLength="93.35" lengthAdjust="spacingAndGlyphs">12.5%</tspan></text>
<text transform="translate(823.20,2097.40)" y="0" font-family='"Liberation Sans", Arimo, Arial, sans-serif' font-size="34.06" fill="#000"><tspan x="-28.72 2.03 10.50">Min</tspan></text>
</svg></body></html>
